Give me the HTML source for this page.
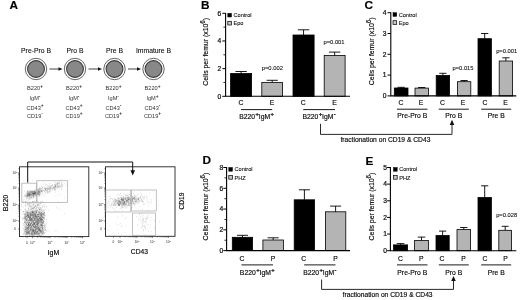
<!DOCTYPE html><html><head><meta charset="utf-8"><style>html,body{margin:0;padding:0;background:#fff}svg{display:block;filter:blur(0.3px)}text{font-family:"Liberation Sans",sans-serif;fill:#0a0a0a;stroke:#0a0a0a;stroke-width:0.16px}</style></head><body>
<svg width="520" height="300" viewBox="0 0 520 300">
<rect width="520" height="300" fill="#fff"/>
<text x="9.5" y="8.7" font-size="11.8" text-anchor="start" font-weight="bold" style="fill:#000">A</text>
<text x="201" y="9.0" font-size="11.8" text-anchor="start" font-weight="bold" style="fill:#000">B</text>
<text x="364.4" y="8.8" font-size="11.8" text-anchor="start" font-weight="bold" style="fill:#000">C</text>
<text x="202.4" y="163.6" font-size="11.8" text-anchor="start" font-weight="bold" style="fill:#000">D</text>
<text x="365.5" y="165.1" font-size="11.8" text-anchor="start" font-weight="bold" style="fill:#000">E</text>
<text x="36" y="53.4" font-size="6.8" text-anchor="middle" font-weight="normal" style="stroke-width:0.08px">Pre-Pro B</text>
<circle cx="36" cy="69" r="10.7" fill="#fff" stroke="#555" stroke-width="0.9"/>
<circle cx="36" cy="69" r="8.4" fill="#888" stroke="#3c3c3c" stroke-width="1.1"/>
<text x="35" y="90.4" font-size="5.6" text-anchor="middle" font-weight="normal" style="stroke:none;fill:#333">B220<tspan font-size="4.8" dy="-2.6" font-weight="bold">+</tspan></text>
<text x="35" y="100.2" font-size="5.6" text-anchor="middle" font-weight="normal" style="stroke:none;fill:#333">IgM<tspan font-size="4.8" dy="-2.6" font-weight="bold">-</tspan></text>
<text x="35" y="109.6" font-size="5.6" text-anchor="middle" font-weight="normal" style="stroke:none;fill:#333">CD43<tspan font-size="4.8" dy="-2.6" font-weight="bold">+</tspan></text>
<text x="35" y="117.9" font-size="5.6" text-anchor="middle" font-weight="normal" style="stroke:none;fill:#333">CD19<tspan font-size="4.8" dy="-2.6" font-weight="bold">-</tspan></text>
<line x1="49.5" y1="69" x2="60.5" y2="69" stroke="#111" stroke-width="0.8"/>
<path d="M62.5 69 L58.5 67.2 L58.5 70.8Z" fill="#111"/>
<text x="75" y="53.4" font-size="6.8" text-anchor="middle" font-weight="normal" style="stroke-width:0.08px">Pro B</text>
<circle cx="75" cy="69" r="10.7" fill="#fff" stroke="#555" stroke-width="0.9"/>
<circle cx="75" cy="69" r="8.4" fill="#888" stroke="#3c3c3c" stroke-width="1.1"/>
<text x="74" y="90.4" font-size="5.6" text-anchor="middle" font-weight="normal" style="stroke:none;fill:#333">B220<tspan font-size="4.8" dy="-2.6" font-weight="bold">+</tspan></text>
<text x="74" y="100.2" font-size="5.6" text-anchor="middle" font-weight="normal" style="stroke:none;fill:#333">IgM<tspan font-size="4.8" dy="-2.6" font-weight="bold">-</tspan></text>
<text x="74" y="109.6" font-size="5.6" text-anchor="middle" font-weight="normal" style="stroke:none;fill:#333">CD43<tspan font-size="4.8" dy="-2.6" font-weight="bold">+</tspan></text>
<text x="74" y="117.9" font-size="5.6" text-anchor="middle" font-weight="normal" style="stroke:none;fill:#333">CD19<tspan font-size="4.8" dy="-2.6" font-weight="bold">+</tspan></text>
<line x1="88.5" y1="69" x2="100.0" y2="69" stroke="#111" stroke-width="0.8"/>
<path d="M102.0 69 L98.0 67.2 L98.0 70.8Z" fill="#111"/>
<text x="114.5" y="53.4" font-size="6.8" text-anchor="middle" font-weight="normal" style="stroke-width:0.08px">Pre B</text>
<circle cx="114.5" cy="69" r="10.7" fill="#fff" stroke="#555" stroke-width="0.9"/>
<circle cx="114.5" cy="69" r="8.4" fill="#888" stroke="#3c3c3c" stroke-width="1.1"/>
<text x="113.5" y="90.4" font-size="5.6" text-anchor="middle" font-weight="normal" style="stroke:none;fill:#333">B220<tspan font-size="4.8" dy="-2.6" font-weight="bold">+</tspan></text>
<text x="113.5" y="100.2" font-size="5.6" text-anchor="middle" font-weight="normal" style="stroke:none;fill:#333">IgM<tspan font-size="4.8" dy="-2.6" font-weight="bold">-</tspan></text>
<text x="113.5" y="109.6" font-size="5.6" text-anchor="middle" font-weight="normal" style="stroke:none;fill:#333">CD43<tspan font-size="4.8" dy="-2.6" font-weight="bold">-</tspan></text>
<text x="113.5" y="117.9" font-size="5.6" text-anchor="middle" font-weight="normal" style="stroke:none;fill:#333">CD19<tspan font-size="4.8" dy="-2.6" font-weight="bold">+</tspan></text>
<line x1="128.0" y1="69" x2="139.0" y2="69" stroke="#111" stroke-width="0.8"/>
<path d="M141.0 69 L137.0 67.2 L137.0 70.8Z" fill="#111"/>
<text x="153.5" y="53.4" font-size="6.8" text-anchor="middle" font-weight="normal" style="stroke-width:0.08px">Immature B</text>
<circle cx="153.5" cy="69" r="10.7" fill="#fff" stroke="#555" stroke-width="0.9"/>
<circle cx="153.5" cy="69" r="8.4" fill="#888" stroke="#3c3c3c" stroke-width="1.1"/>
<text x="152.5" y="90.4" font-size="5.6" text-anchor="middle" font-weight="normal" style="stroke:none;fill:#333">B220<tspan font-size="4.8" dy="-2.6" font-weight="bold">+</tspan></text>
<text x="152.5" y="100.2" font-size="5.6" text-anchor="middle" font-weight="normal" style="stroke:none;fill:#333">IgM<tspan font-size="4.8" dy="-2.6" font-weight="bold">+</tspan></text>
<text x="152.5" y="109.6" font-size="5.6" text-anchor="middle" font-weight="normal" style="stroke:none;fill:#333">CD43<tspan font-size="4.8" dy="-2.6" font-weight="bold">-</tspan></text>
<text x="152.5" y="117.9" font-size="5.6" text-anchor="middle" font-weight="normal" style="stroke:none;fill:#333">CD19<tspan font-size="4.8" dy="-2.6" font-weight="bold">+</tspan></text>
<rect x="19.5" y="166.8" width="69.3" height="69.79999999999998" fill="#fff" stroke="#222" stroke-width="0.9"/>
<path d="M32.3 215.6h0.55M34.5 224.1h0.55M25.1 214.3h0.55M33.2 216.4h0.55M38.6 220.4h0.55M46.1 219.6h0.55M28.7 231.7h0.55M26.4 219.4h0.55M35.7 217.0h0.55M36.3 226.1h0.55M32.5 230.8h0.55M27.8 231.2h0.55M37.4 219.1h0.55M32.8 222.3h0.55M24.4 222.8h0.55M40.2 227.9h0.55M32.8 234.6h0.55M33.5 227.6h0.55M39.9 218.4h0.55M32.0 222.3h0.55M28.5 230.0h0.55M27.4 233.6h0.55M24.6 233.0h0.55M41.0 220.6h0.55M34.6 212.8h0.55M28.4 224.3h0.55M35.9 221.8h0.55M28.2 226.3h0.55M32.8 211.6h0.55M42.3 227.1h0.55M31.7 227.0h0.55M27.1 216.2h0.55M31.3 215.5h0.55M26.6 232.4h0.55M37.1 221.0h0.55M32.9 214.4h0.55M31.1 218.7h0.55M27.3 214.8h0.55M37.0 234.8h0.55M40.6 219.3h0.55M28.4 228.0h0.55M41.8 226.2h0.55M27.7 212.5h0.55M25.3 229.1h0.55M39.1 235.9h0.55M41.9 218.1h0.55M29.3 234.9h0.55M38.2 230.7h0.55M24.7 227.0h0.55M37.9 230.3h0.55M32.5 217.0h0.55M34.9 215.1h0.55M29.4 233.4h0.55M29.8 223.1h0.55M30.7 212.1h0.55M41.8 231.9h0.55M35.1 214.7h0.55M29.3 226.6h0.55M29.1 233.3h0.55M29.5 233.3h0.55M34.4 223.3h0.55M36.4 216.4h0.55M25.4 222.0h0.55M37.1 223.4h0.55M35.4 224.1h0.55M29.1 226.4h0.55M35.6 218.7h0.55M34.4 227.9h0.55M31.6 233.3h0.55M40.7 215.3h0.55M38.2 214.1h0.55M26.7 217.8h0.55M25.0 230.2h0.55M27.4 213.0h0.55M42.4 233.7h0.55M27.5 231.5h0.55M26.2 220.6h0.55M27.6 214.8h0.55M35.0 219.7h0.55M36.0 234.6h0.55M40.3 218.0h0.55M26.0 213.7h0.55M35.3 216.4h0.55M29.6 227.1h0.55M28.9 222.6h0.55M28.4 229.6h0.55M26.9 231.4h0.55M32.3 235.0h0.55M31.3 218.9h0.55M27.3 217.1h0.55M29.9 221.2h0.55M34.9 213.7h0.55M32.2 224.9h0.55M24.8 215.0h0.55M38.4 232.0h0.55M29.8 234.5h0.55M32.6 224.4h0.55M32.2 215.4h0.55M26.2 214.5h0.55M28.3 224.7h0.55M30.3 223.9h0.55M26.7 234.5h0.55M41.8 233.9h0.55M30.7 220.8h0.55M32.7 223.6h0.55M25.0 221.9h0.55M27.1 217.5h0.55M33.2 226.6h0.55M39.4 218.4h0.55M44.7 228.9h0.55M27.5 223.5h0.55M38.9 223.2h0.55M35.8 228.5h0.55M37.7 226.4h0.55M30.1 220.5h0.55M28.0 224.7h0.55M35.8 210.4h0.55M39.7 222.4h0.55M39.6 218.9h0.55M26.1 219.3h0.55M40.5 220.5h0.55M32.8 223.7h0.55M37.7 218.3h0.55M38.1 214.2h0.55M25.8 230.3h0.55M37.0 224.6h0.55M36.1 218.9h0.55M43.4 222.4h0.55M41.9 217.8h0.55M29.9 225.0h0.55M23.7 214.5h0.55M36.8 228.0h0.55M30.8 211.5h0.55M23.3 219.0h0.55M26.8 232.5h0.55M25.0 211.7h0.55M41.3 215.3h0.55M27.3 229.2h0.55M30.5 213.7h0.55M27.5 232.4h0.55M29.4 218.3h0.55M35.1 229.8h0.55M39.9 222.7h0.55M40.8 223.2h0.55M38.1 212.1h0.55M43.4 221.2h0.55M30.2 213.6h0.55M36.5 223.0h0.55M28.7 233.8h0.55M34.0 214.9h0.55M32.3 218.6h0.55M37.6 219.8h0.55M31.1 219.5h0.55M25.4 219.0h0.55M32.1 214.6h0.55M30.0 223.9h0.55M44.5 209.9h0.55M24.7 219.6h0.55M37.5 233.3h0.55M42.9 214.3h0.55M28.1 229.3h0.55M42.0 227.3h0.55M33.0 229.8h0.55M31.3 217.9h0.55M27.3 230.3h0.55M28.8 226.2h0.55M32.5 214.4h0.55M26.7 227.8h0.55M40.2 217.9h0.55M42.4 211.2h0.55M33.5 216.4h0.55M38.4 212.3h0.55M29.1 217.7h0.55M39.6 214.8h0.55M41.8 220.1h0.55M29.2 232.6h0.55M34.6 222.6h0.55M38.2 220.8h0.55M29.8 213.0h0.55M23.4 234.4h0.55M42.3 219.5h0.55M30.9 211.7h0.55M36.2 220.7h0.55M29.4 220.1h0.55M45.6 219.7h0.55M32.9 219.3h0.55M24.4 233.4h0.55M26.3 215.3h0.55M33.6 210.4h0.55M29.0 219.3h0.55M40.0 217.4h0.55M41.8 227.6h0.55M30.8 229.5h0.55M39.4 209.7h0.55M25.4 234.6h0.55M32.1 225.0h0.55M43.3 231.6h0.55M40.5 217.4h0.55M29.1 215.9h0.55M28.7 212.3h0.55M24.3 234.1h0.55M42.6 213.8h0.55M24.3 222.3h0.55M27.4 228.6h0.55M40.2 212.8h0.55M40.0 222.6h0.55M39.0 218.8h0.55M29.4 218.1h0.55M34.2 217.2h0.55M37.2 210.3h0.55M35.1 230.2h0.55M25.5 217.1h0.55M39.8 218.7h0.55M39.8 230.3h0.55M44.2 227.6h0.55M28.4 217.3h0.55M27.8 215.3h0.55M24.1 218.4h0.55M31.6 227.3h0.55M27.5 225.6h0.55M37.6 228.5h0.55M32.3 235.3h0.55M29.4 221.0h0.55M42.5 216.5h0.55M38.5 232.9h0.55M33.5 230.8h0.55M33.7 224.9h0.55M37.4 225.9h0.55M31.0 218.5h0.55M35.3 222.9h0.55M40.9 214.7h0.55M44.3 212.9h0.55M39.5 228.5h0.55M41.8 219.5h0.55M34.2 213.7h0.55M27.5 222.0h0.55M27.3 235.2h0.55M23.3 211.8h0.55M42.1 226.1h0.55M36.0 227.0h0.55M31.9 220.6h0.55M24.1 216.2h0.55M39.5 214.4h0.55M34.4 222.4h0.55M24.9 213.6h0.55M39.0 231.2h0.55M36.2 221.3h0.55M39.0 233.6h0.55M37.5 214.8h0.55M40.1 219.8h0.55M40.8 221.2h0.55M41.3 234.6h0.55M28.7 221.2h0.55M26.1 234.4h0.55M38.3 229.5h0.55M24.9 219.8h0.55M39.2 231.6h0.55M29.2 221.0h0.55M39.3 230.1h0.55M31.8 214.3h0.55M41.6 218.7h0.55M38.9 227.1h0.55M31.2 215.4h0.55M34.6 233.4h0.55M27.8 214.8h0.55M24.6 220.8h0.55M27.3 215.6h0.55M35.7 233.7h0.55M29.9 227.3h0.55M41.4 216.5h0.55M24.0 218.4h0.55M33.4 230.2h0.55M30.0 224.0h0.55M32.6 230.5h0.55M21.6 214.1h0.55M27.2 225.6h0.55M40.7 220.1h0.55M28.0 226.7h0.55M26.6 220.5h0.55M37.6 214.8h0.55M30.7 229.6h0.55M39.3 216.0h0.55M32.6 225.1h0.55M27.3 213.8h0.55M42.5 217.5h0.55M41.3 218.6h0.55M40.7 233.9h0.55M35.8 232.3h0.55M35.0 229.6h0.55M32.8 217.0h0.55M28.5 232.5h0.55M28.4 233.5h0.55M31.6 213.3h0.55M36.2 227.1h0.55M24.9 230.0h0.55M40.6 231.6h0.55M42.6 216.5h0.55M30.1 231.3h0.55M37.8 216.6h0.55M29.0 218.3h0.55M30.6 218.1h0.55M29.9 217.9h0.55M39.7 226.1h0.55M24.1 230.7h0.55M30.9 215.1h0.55M43.4 217.5h0.55M23.2 230.4h0.55M26.9 231.2h0.55M31.0 216.5h0.55M37.2 226.6h0.55M27.1 227.7h0.55M35.6 222.4h0.55M44.3 214.3h0.55M28.5 227.0h0.55M32.9 221.8h0.55M34.9 224.2h0.55M31.0 232.2h0.55M37.2 221.1h0.55M38.6 222.2h0.55M41.5 220.0h0.55M38.5 214.8h0.55M28.7 217.4h0.55M32.7 232.8h0.55M27.6 220.7h0.55M43.9 219.5h0.55M28.1 216.2h0.55M33.8 230.5h0.55M35.6 222.6h0.55M26.3 228.1h0.55M39.9 230.1h0.55M33.1 234.8h0.55M38.4 224.7h0.55M35.5 226.8h0.55M24.4 229.8h0.55M36.6 224.1h0.55M34.5 234.7h0.55M26.8 218.6h0.55M34.5 224.4h0.55M28.7 220.2h0.55M25.1 227.6h0.55M32.5 221.7h0.55M33.6 227.4h0.55M32.3 233.8h0.55M32.8 221.6h0.55M23.8 228.9h0.55M31.4 230.2h0.55M41.3 230.2h0.55M32.5 230.7h0.55M38.8 223.6h0.55M30.6 226.4h0.55M40.9 217.1h0.55M37.3 222.3h0.55M40.6 219.4h0.55M32.9 228.7h0.55M30.2 224.4h0.55M31.4 218.6h0.55M42.5 230.6h0.55M41.9 230.3h0.55M37.0 233.9h0.55M37.1 216.0h0.55M29.6 214.1h0.55M42.0 231.6h0.55M36.7 230.2h0.55M40.1 227.0h0.55M34.7 230.6h0.55M35.2 216.4h0.55M35.8 216.0h0.55M32.1 231.9h0.55M26.1 223.4h0.55M38.1 220.3h0.55M44.8 227.7h0.55M23.7 231.9h0.55M33.0 222.9h0.55M44.1 226.9h0.55M32.3 221.7h0.55M34.9 220.9h0.55M30.0 217.7h0.55M38.8 219.3h0.55M36.7 229.8h0.55M30.6 226.7h0.55M36.8 228.2h0.55M40.9 218.8h0.55M26.4 229.4h0.55M38.0 222.7h0.55M34.7 223.9h0.55M38.2 224.8h0.55M39.9 213.5h0.55M41.3 219.3h0.55M40.7 215.9h0.55M29.4 222.6h0.55M37.4 224.8h0.55M27.9 227.2h0.55M41.7 221.0h0.55M40.1 221.2h0.55M34.5 218.3h0.55M28.0 227.7h0.55M27.9 231.9h0.55M29.9 217.9h0.55M38.8 230.3h0.55M39.8 211.9h0.55M36.2 231.7h0.55M32.2 211.7h0.55M23.5 211.4h0.55M30.6 230.8h0.55M35.4 225.8h0.55M32.7 229.5h0.55M30.3 219.8h0.55M33.0 226.3h0.55M35.3 234.9h0.55M38.7 224.7h0.55M44.1 217.2h0.55M34.1 226.7h0.55M38.4 216.8h0.55M24.9 227.2h0.55M40.5 230.9h0.55M41.4 216.8h0.55M41.6 230.7h0.55M33.2 231.4h0.55M28.7 213.7h0.55M35.4 215.1h0.55M29.7 219.7h0.55M27.6 214.8h0.55M38.4 222.0h0.55M32.9 215.9h0.55M27.9 223.5h0.55M31.5 212.9h0.55M42.9 227.1h0.55M40.8 221.7h0.55M35.0 234.8h0.55M39.0 218.2h0.55M36.0 231.4h0.55M41.3 212.6h0.55M29.0 213.8h0.55M36.5 232.5h0.55M43.8 222.0h0.55M28.4 224.7h0.55M39.1 220.4h0.55M30.3 220.4h0.55M44.2 211.4h0.55M39.0 232.4h0.55M27.7 235.7h0.55M36.9 231.5h0.55M26.4 216.0h0.55M34.5 216.3h0.55M40.1 216.7h0.55M26.7 233.0h0.55M41.7 221.7h0.55M29.6 225.1h0.55M31.8 225.5h0.55M37.3 214.2h0.55M37.4 231.7h0.55M29.1 218.7h0.55M40.0 224.1h0.55M31.5 234.1h0.55M27.9 215.4h0.55M33.6 217.8h0.55M37.4 233.0h0.55M26.0 216.6h0.55M37.2 216.6h0.55M39.5 212.8h0.55M39.4 221.8h0.55M42.3 217.2h0.55M28.7 214.0h0.55M28.3 224.5h0.55M30.7 230.4h0.55M39.1 213.0h0.55M36.4 214.7h0.55M38.4 234.5h0.55M37.6 223.3h0.55M41.0 232.1h0.55M32.6 227.0h0.55M23.4 223.6h0.55M26.6 229.0h0.55M30.6 227.8h0.55M28.9 220.5h0.55M32.5 212.1h0.55M43.1 215.4h0.55M29.8 213.9h0.55M38.0 226.1h0.55M33.2 214.0h0.55M41.0 214.4h0.55M32.8 214.8h0.55M33.9 233.4h0.55M25.3 214.6h0.55M41.7 221.1h0.55M38.9 233.4h0.55M38.7 220.7h0.55M35.9 232.7h0.55M40.4 223.5h0.55M43.8 221.2h0.55M35.4 215.1h0.55M32.7 215.2h0.55M43.6 222.9h0.55M42.5 210.6h0.55M36.6 220.7h0.55M37.0 216.7h0.55M31.0 220.2h0.55M30.2 225.0h0.55M41.4 222.6h0.55M35.4 215.7h0.55M29.3 218.3h0.55M23.7 225.2h0.55M34.9 227.5h0.55M31.4 222.1h0.55M30.8 224.9h0.55M31.9 220.0h0.55M41.1 225.3h0.55M31.6 229.7h0.55M30.9 223.4h0.55M24.8 230.0h0.55M27.7 233.0h0.55M27.1 228.8h0.55M38.1 221.5h0.55M38.6 220.2h0.55M38.6 211.5h0.55M43.8 225.5h0.55M36.2 221.1h0.55M41.0 219.2h0.55M30.9 219.4h0.55M30.7 218.9h0.55M40.7 220.7h0.55M28.1 226.1h0.55M38.8 221.3h0.55M42.7 213.3h0.55M33.1 213.0h0.55M31.9 229.9h0.55M36.9 223.9h0.55M36.5 226.6h0.55M33.8 223.3h0.55M25.7 226.1h0.55M38.6 220.4h0.55M29.4 216.1h0.55M35.2 218.4h0.55M44.0 212.8h0.55M40.5 232.0h0.55M40.6 219.1h0.55M33.4 216.2h0.55M35.5 234.0h0.55M38.4 230.5h0.55M30.6 218.9h0.55M38.5 215.3h0.55M33.0 226.5h0.55M36.9 221.4h0.55M28.7 216.7h0.55M27.8 232.6h0.55M36.5 211.8h0.55M38.1 222.4h0.55M28.1 233.5h0.55M34.8 222.3h0.55M27.6 232.7h0.55M32.3 212.2h0.55M43.1 231.6h0.55M39.4 236.1h0.55M35.3 220.6h0.55M38.5 233.5h0.55M34.3 214.8h0.55M33.3 222.6h0.55M36.9 222.2h0.55M33.2 231.3h0.55M31.5 219.6h0.55M31.7 220.4h0.55M27.7 217.5h0.55M41.7 232.5h0.55M40.7 229.9h0.55M33.0 233.6h0.55M34.6 216.8h0.55M37.8 228.9h0.55M31.9 219.1h0.55M42.5 225.8h0.55M30.2 225.6h0.55M34.9 215.5h0.55M29.1 226.1h0.55M25.6 222.9h0.55M31.8 217.8h0.55M27.1 220.0h0.55M42.3 228.5h0.55M27.4 228.0h0.55M36.3 228.5h0.55M38.0 223.2h0.55M37.0 233.7h0.55M38.5 212.5h0.55M28.4 222.0h0.55M24.9 218.2h0.55M38.2 216.8h0.55M32.5 210.7h0.55M40.7 211.7h0.55M40.4 217.3h0.55M27.3 232.0h0.55M41.0 222.3h0.55M39.4 212.9h0.55M39.2 229.6h0.55M39.7 220.4h0.55M25.5 222.2h0.55M44.1 215.0h0.55M38.4 223.4h0.55M41.6 216.2h0.55M25.1 217.9h0.55M32.4 229.3h0.55M29.5 224.2h0.55M41.5 233.4h0.55M26.3 230.2h0.55M35.2 226.4h0.55M33.4 231.8h0.55M26.7 218.2h0.55M25.9 229.2h0.55M34.4 223.7h0.55M32.0 212.8h0.55M43.4 227.8h0.55M42.4 222.9h0.55M33.8 214.1h0.55M40.6 231.7h0.55M37.1 216.4h0.55M26.0 215.8h0.55M26.4 231.0h0.55M28.8 226.1h0.55M32.2 222.1h0.55M30.4 230.6h0.55M31.4 227.0h0.55M39.2 230.4h0.55M33.2 218.9h0.55M37.9 216.9h0.55M33.9 212.8h0.55M34.1 214.5h0.55M42.3 219.6h0.55M29.2 220.1h0.55M29.1 231.9h0.55M42.4 223.3h0.55M34.8 214.8h0.55M26.9 233.9h0.55M45.0 225.6h0.55M42.2 226.9h0.55M26.9 221.3h0.55M36.5 233.8h0.55M26.4 224.5h0.55M25.8 224.1h0.55M30.7 220.7h0.55M28.5 227.7h0.55M27.9 213.3h0.55M34.8 226.6h0.55M28.5 223.5h0.55M37.3 214.5h0.55M34.5 226.9h0.55M42.7 231.8h0.55M27.7 214.5h0.55M40.2 214.1h0.55M40.5 221.0h0.55M24.4 218.3h0.55M35.1 227.8h0.55M37.8 230.7h0.55M28.1 228.1h0.55M38.0 219.9h0.55M41.1 212.2h0.55M37.8 231.7h0.55M29.2 216.8h0.55M25.7 226.4h0.55M27.9 230.5h0.55M27.2 227.4h0.55M34.1 227.0h0.55M39.2 208.7h0.55M32.4 233.6h0.55M40.8 231.0h0.55M36.2 216.8h0.55M38.1 228.1h0.55M25.9 233.5h0.55M36.8 220.6h0.55M32.3 219.4h0.55M23.8 211.8h0.55M34.0 215.3h0.55M37.2 224.8h0.55M28.1 233.2h0.55M45.4 230.2h0.55M41.5 224.4h0.55M31.2 234.9h0.55M41.8 228.3h0.55M36.4 219.9h0.55M34.7 220.1h0.55M32.8 220.3h0.55M29.6 216.6h0.55M26.3 221.0h0.55M35.2 214.4h0.55M29.7 227.1h0.55M40.4 228.5h0.55M31.9 230.3h0.55M22.8 218.7h0.55M30.7 218.3h0.55M38.4 218.2h0.55M37.7 214.8h0.55M40.7 213.3h0.55M41.0 214.1h0.55M25.3 226.0h0.55M42.4 230.6h0.55M35.0 221.1h0.55M25.6 226.7h0.55M29.0 218.0h0.55M37.2 225.3h0.55M45.3 229.4h0.55M31.9 215.8h0.55M41.7 223.3h0.55M33.2 226.0h0.55M34.8 220.2h0.55M38.4 216.4h0.55M41.0 218.2h0.55M35.5 211.9h0.55M32.3 218.1h0.55M43.7 216.7h0.55M25.9 224.0h0.55M36.8 223.9h0.55M28.9 235.5h0.55M30.7 218.1h0.55M40.9 219.9h0.55M38.4 233.1h0.55M26.9 226.3h0.55M32.8 224.6h0.55M35.9 224.5h0.55M29.1 223.2h0.55M30.1 229.4h0.55M31.6 225.1h0.55M30.0 215.7h0.55M39.5 218.5h0.55M34.7 227.1h0.55M34.0 232.9h0.55M30.0 228.9h0.55M31.3 234.5h0.55M26.0 228.4h0.55M28.0 216.2h0.55M33.5 231.0h0.55M44.3 230.5h0.55M39.6 217.8h0.55M33.2 235.0h0.55M31.4 222.6h0.55M26.6 228.2h0.55M27.6 212.7h0.55M28.0 220.1h0.55M32.2 228.1h0.55M30.6 214.7h0.55M24.2 224.7h0.55M34.1 227.2h0.55M32.7 233.9h0.55M40.8 217.7h0.55M34.3 220.6h0.55M36.2 216.6h0.55M37.3 225.5h0.55M32.0 215.7h0.55M41.3 209.7h0.55M36.8 226.7h0.55M30.9 229.2h0.55M38.7 234.7h0.55M27.5 218.8h0.55M36.6 227.3h0.55M36.5 226.5h0.55M28.2 232.1h0.55M33.4 221.0h0.55M31.4 227.0h0.55M31.8 217.0h0.55M29.0 225.1h0.55M42.8 211.0h0.55M33.5 212.3h0.55M27.8 220.9h0.55M38.1 213.8h0.55M34.8 222.3h0.55M34.7 212.9h0.55M36.3 218.9h0.55M31.0 213.7h0.55M28.2 215.9h0.55M38.1 219.0h0.55M42.3 233.0h0.55M26.2 227.5h0.55M33.5 220.9h0.55M37.7 228.5h0.55M39.1 226.6h0.55M43.6 232.4h0.55M31.2 212.4h0.55M37.6 224.8h0.55M41.7 225.3h0.55M30.6 222.3h0.55M35.1 222.2h0.55M35.5 226.9h0.55M34.8 225.3h0.55M39.3 216.3h0.55M26.7 213.4h0.55M38.4 227.5h0.55M37.6 228.0h0.55M27.8 227.9h0.55M42.0 225.1h0.55M26.4 217.9h0.55M30.7 227.9h0.55M34.0 219.3h0.55M42.0 214.9h0.55M30.6 221.2h0.55M31.5 220.6h0.55M40.9 228.2h0.55M25.2 223.2h0.55M34.9 231.5h0.55M29.7 222.8h0.55M35.0 231.5h0.55M24.0 214.1h0.55M42.9 217.1h0.55M39.4 222.4h0.55M36.9 215.7h0.55M42.7 219.6h0.55M29.2 235.4h0.55M32.0 231.8h0.55M38.0 228.5h0.55M26.5 216.2h0.55M34.9 217.4h0.55M40.5 218.2h0.55M41.4 212.6h0.55M31.3 223.7h0.55M24.2 222.5h0.55M39.8 216.8h0.55M45.9 224.0h0.55M28.8 225.6h0.55M43.7 232.9h0.55M35.4 215.0h0.55M32.4 215.3h0.55M44.2 234.7h0.55M33.6 212.4h0.55M30.0 229.4h0.55M28.6 212.3h0.55M37.0 231.3h0.55M35.6 223.9h0.55M26.3 224.6h0.55M29.9 217.4h0.55M29.5 230.9h0.55M40.3 214.3h0.55M42.7 225.6h0.55M26.2 224.5h0.55M33.7 222.1h0.55M29.6 232.9h0.55M34.5 233.5h0.55M34.6 225.8h0.55M29.2 217.2h0.55M24.1 219.9h0.55M43.3 218.4h0.55M36.5 211.0h0.55M25.8 210.3h0.55M35.4 217.1h0.55M36.5 213.1h0.55M41.0 214.9h0.55M29.3 213.1h0.55M32.0 217.9h0.55M36.6 229.4h0.55M31.1 232.9h0.55M38.2 225.6h0.55M40.8 227.8h0.55M33.6 231.0h0.55M40.8 235.8h0.55M41.6 227.4h0.55M33.2 231.2h0.55M39.9 228.1h0.55M45.6 232.9h0.55M30.3 215.6h0.55M33.6 234.7h0.55M37.3 228.5h0.55M38.1 227.5h0.55M34.5 232.4h0.55M28.8 228.5h0.55M24.8 214.6h0.55M38.1 223.6h0.55M31.5 232.9h0.55M36.3 218.9h0.55M35.8 231.4h0.55M27.0 230.5h0.55M27.9 224.3h0.55M30.8 231.2h0.55M28.3 223.7h0.55M44.4 218.5h0.55M35.7 233.7h0.55M33.9 219.0h0.55M23.9 222.8h0.55M35.0 225.9h0.55M25.2 232.8h0.55M30.5 218.7h0.55M33.1 220.3h0.55M32.3 231.1h0.55M36.0 228.7h0.55M41.1 210.2h0.55M33.6 235.5h0.55M25.9 212.0h0.55M32.2 216.2h0.55M38.6 223.6h0.55M41.4 225.2h0.55M34.5 227.3h0.55M31.2 232.8h0.55M39.2 224.6h0.55M42.6 218.2h0.55M32.0 221.3h0.55M43.9 218.9h0.55M42.9 223.4h0.55M26.9 222.5h0.55M42.7 234.0h0.55M34.5 228.0h0.55M32.4 225.0h0.55M34.1 216.0h0.55M33.4 217.7h0.55M36.5 215.7h0.55M38.9 233.0h0.55M29.9 225.2h0.55M38.2 229.1h0.55M35.7 218.5h0.55M42.3 219.6h0.55M39.3 232.9h0.55M32.5 232.4h0.55M27.2 222.0h0.55M35.7 223.4h0.55M31.3 230.9h0.55M40.1 226.7h0.55M35.5 232.7h0.55M39.7 230.1h0.55M26.7 223.7h0.55M32.1 231.9h0.55M30.3 215.3h0.55M40.4 219.8h0.55M40.7 220.8h0.55M24.5 217.7h0.55M24.2 231.3h0.55M26.1 216.5h0.55M35.9 226.3h0.55M29.3 230.3h0.55M39.6 229.8h0.55M23.8 213.4h0.55M36.3 219.1h0.55M33.5 231.3h0.55M44.8 215.7h0.55M44.9 215.9h0.55M32.4 220.2h0.55M31.9 220.0h0.55M28.4 220.2h0.55M28.4 217.1h0.55M34.1 225.1h0.55M44.8 227.3h0.55M26.2 232.1h0.55M37.5 219.3h0.55M24.7 215.4h0.55M26.5 234.0h0.55M39.2 214.7h0.55M28.2 233.0h0.55M42.4 229.2h0.55M29.0 225.0h0.55M28.9 233.2h0.55M42.4 220.5h0.55M36.4 233.3h0.55M28.6 225.6h0.55M35.0 230.3h0.55M36.8 225.2h0.55M25.3 234.4h0.55M33.3 216.8h0.55M41.2 226.1h0.55M27.9 227.1h0.55M36.3 211.9h0.55M40.1 221.8h0.55M37.2 225.8h0.55M36.9 233.1h0.55M37.2 235.2h0.55M27.0 232.7h0.55M36.7 213.7h0.55M43.2 212.7h0.55M30.5 227.0h0.55M39.9 215.3h0.55M30.5 214.7h0.55M42.7 229.6h0.55M27.3 230.0h0.55M41.6 231.5h0.55M36.1 224.6h0.55M36.2 212.6h0.55M34.7 213.7h0.55M41.8 231.1h0.55M35.1 218.4h0.55M36.3 227.4h0.55M33.7 233.0h0.55M41.9 219.9h0.55M40.4 236.3h0.55M39.9 214.6h0.55M36.2 221.4h0.55M30.8 231.6h0.55M39.6 227.9h0.55M40.6 232.0h0.55M33.7 233.0h0.55M32.8 217.7h0.55M31.1 222.8h0.55M41.0 226.5h0.55M43.2 218.2h0.55M29.3 217.5h0.55M42.7 229.0h0.55M41.5 222.4h0.55M27.6 225.2h0.55M27.8 214.7h0.55M33.7 232.0h0.55M34.6 233.0h0.55M27.0 234.1h0.55M26.0 228.8h0.55M38.8 216.7h0.55M25.1 216.9h0.55M41.5 225.4h0.55M35.6 212.2h0.55M27.7 215.4h0.55M22.9 228.0h0.55M30.2 213.3h0.55M28.6 223.6h0.55M41.5 222.0h0.55M43.3 217.8h0.55M41.6 216.1h0.55M26.5 218.9h0.55M35.2 214.9h0.55M31.4 223.4h0.55M36.0 213.0h0.55M25.8 233.5h0.55M31.6 229.3h0.55M28.4 216.0h0.55M30.0 219.5h0.55M39.3 218.1h0.55M30.6 224.6h0.55M43.3 232.0h0.55M31.0 215.0h0.55M33.3 214.0h0.55M34.4 223.2h0.55M28.6 223.4h0.55M41.7 216.9h0.55M35.8 232.9h0.55M43.8 226.5h0.55M31.0 219.7h0.55M26.2 226.2h0.55M40.1 220.1h0.55M28.0 213.5h0.55M42.2 212.4h0.55M36.7 222.8h0.55M37.6 223.2h0.55M35.7 229.8h0.55M42.3 217.3h0.55M42.2 226.8h0.55M42.7 213.4h0.55M33.8 230.0h0.55M37.3 227.0h0.55M26.3 222.6h0.55M36.2 234.2h0.55M37.1 219.6h0.55M42.4 234.4h0.55M29.7 228.2h0.55M24.8 231.7h0.55M24.0 221.7h0.55M35.2 216.7h0.55M28.1 214.9h0.55M31.8 211.7h0.55M30.4 224.3h0.55M34.4 230.3h0.55M42.3 225.2h0.55M26.6 212.0h0.55M29.3 236.1h0.55M29.7 230.0h0.55M36.3 217.5h0.55M34.7 231.2h0.55M43.0 233.2h0.55M36.6 220.1h0.55M28.1 229.0h0.55M26.2 220.6h0.55M37.5 222.7h0.55M37.0 213.9h0.55M43.0 220.8h0.55M43.2 235.7h0.55M41.9 222.9h0.55M37.4 216.3h0.55M28.9 215.6h0.55M31.9 225.7h0.55M41.1 227.5h0.55M33.9 214.0h0.55M38.3 235.4h0.55M40.4 224.6h0.55M39.1 229.4h0.55M30.5 228.8h0.55M42.2 215.1h0.55M22.8 217.7h0.55M27.3 228.0h0.55M25.2 229.6h0.55M44.0 233.6h0.55M43.8 225.2h0.55M29.3 218.9h0.55M26.8 214.6h0.55M36.1 229.0h0.55M37.5 217.9h0.55M41.7 215.3h0.55M35.9 219.0h0.55M40.0 224.8h0.55M27.8 227.4h0.55M31.2 226.3h0.55M28.3 216.5h0.55M36.8 223.0h0.55M34.8 228.3h0.55M28.5 230.1h0.55M37.3 218.5h0.55M37.2 218.1h0.55M40.5 231.8h0.55M39.2 229.9h0.55M25.5 212.7h0.55M36.7 235.2h0.55M33.8 224.4h0.55M33.0 226.1h0.55M39.8 221.3h0.55M33.9 219.5h0.55M28.4 230.1h0.55M28.4 234.7h0.55M37.8 227.7h0.55M34.5 234.0h0.55M25.2 219.4h0.55M26.3 219.3h0.55M26.0 234.6h0.55M25.3 217.8h0.55M27.8 224.6h0.55M40.9 230.5h0.55M32.4 218.3h0.55M43.9 229.9h0.55M43.0 233.0h0.55M35.7 230.2h0.55M39.3 234.8h0.55M27.5 216.4h0.55M24.9 216.4h0.55M40.4 230.0h0.55M32.0 232.4h0.55M40.8 229.5h0.55M39.4 217.2h0.55M41.2 219.3h0.55M31.0 215.8h0.55M30.6 225.7h0.55M41.5 232.0h0.55M42.5 229.2h0.55M40.0 223.1h0.55M41.9 221.2h0.55M38.4 234.0h0.55M43.7 232.0h0.55M37.2 231.6h0.55M33.7 230.4h0.55M40.2 219.0h0.55M30.8 213.4h0.55M39.8 214.2h0.55M39.3 222.9h0.55M41.2 226.2h0.55M38.2 229.5h0.55M32.2 212.9h0.55M36.8 221.4h0.55M34.4 215.2h0.55M29.1 231.1h0.55M27.7 225.4h0.55M32.7 212.5h0.55M35.9 217.7h0.55M29.0 214.2h0.55M43.0 220.7h0.55M39.1 218.5h0.55M31.0 223.6h0.55M33.8 233.2h0.55M40.9 215.1h0.55M39.3 231.1h0.55M32.7 212.0h0.55M37.1 231.9h0.55M36.3 214.5h0.55M37.2 224.3h0.55M29.5 225.5h0.55M33.8 219.9h0.55M38.3 216.7h0.55M35.5 234.7h0.55M26.5 227.9h0.55M37.9 230.0h0.55M45.7 223.4h0.55M29.2 228.8h0.55M25.4 235.5h0.55M31.3 215.4h0.55M26.1 220.2h0.55M28.1 217.1h0.55M29.8 223.0h0.55M35.0 233.4h0.55M34.4 217.4h0.55M30.4 235.3h0.55M31.4 221.4h0.55M37.1 232.5h0.55M38.7 228.9h0.55M29.1 218.6h0.55M32.4 229.2h0.55M39.4 220.1h0.55M41.3 225.5h0.55M33.2 220.6h0.55M30.9 232.7h0.55M24.7 225.0h0.55M32.9 223.3h0.55M41.0 218.3h0.55M30.0 216.2h0.55M30.7 234.0h0.55M34.7 232.3h0.55M27.8 216.1h0.55M26.4 216.4h0.55M25.8 231.2h0.55M43.8 232.5h0.55M28.2 215.7h0.55M39.8 212.9h0.55M41.2 232.3h0.55M26.5 212.8h0.55M37.6 215.2h0.55M26.5 232.8h0.55M33.4 220.8h0.55M38.5 216.4h0.55M31.4 223.6h0.55M39.3 230.6h0.55M32.5 226.8h0.55M28.2 234.1h0.55M41.1 215.7h0.55M32.0 230.3h0.55M39.4 230.3h0.55M31.7 226.9h0.55M36.4 232.4h0.55M35.8 219.6h0.55M42.5 228.2h0.55M42.8 228.1h0.55M29.1 231.1h0.55M33.5 217.5h0.55M42.2 228.6h0.55M37.4 220.7h0.55M44.6 215.8h0.55M32.6 224.3h0.55M38.3 229.5h0.55M24.2 217.0h0.55M36.8 234.7h0.55M44.1 225.1h0.55M40.1 230.1h0.55M34.1 214.2h0.55M40.3 215.1h0.55M40.7 214.3h0.55M35.9 231.6h0.55M24.9 231.7h0.55M43.3 223.2h0.55M38.1 232.0h0.55M30.3 217.0h0.55M27.0 215.8h0.55M39.4 218.2h0.55M42.5 229.5h0.55M43.3 222.0h0.55M40.1 233.3h0.55M38.8 214.9h0.55M35.4 229.6h0.55M27.1 219.5h0.55M29.3 224.7h0.55M28.6 231.0h0.55M37.7 223.3h0.55M43.6 225.3h0.55M41.4 220.6h0.55M25.8 219.3h0.55M33.1 226.3h0.55M33.9 223.8h0.55M40.2 224.6h0.55M31.7 234.1h0.55M28.2 216.9h0.55M36.6 229.4h0.55M42.1 225.4h0.55M38.7 221.8h0.55M42.1 214.1h0.55M34.4 229.7h0.55M25.5 232.1h0.55M28.0 231.7h0.55M32.7 225.0h0.55M40.7 235.8h0.55M27.0 214.1h0.55M29.7 231.5h0.55M41.7 214.1h0.55M37.0 232.2h0.55M30.3 216.2h0.55M36.2 222.7h0.55M34.1 223.9h0.55M26.8 218.0h0.55M39.2 220.5h0.55M25.1 219.9h0.55M39.6 233.5h0.55M29.7 225.8h0.55M28.9 219.9h0.55M25.6 217.7h0.55M35.6 215.1h0.55M29.1 231.4h0.55M33.2 215.2h0.55M40.1 225.6h0.55M24.6 214.3h0.55M38.3 214.0h0.55M35.2 215.1h0.55M42.8 221.2h0.55M30.7 236.1h0.55M31.0 219.5h0.55M31.8 214.0h0.55M21.6 231.9h0.55M25.0 216.4h0.55M34.5 218.8h0.55M43.0 213.6h0.55M35.6 229.8h0.55M36.2 228.4h0.55M40.9 214.2h0.55M35.5 226.5h0.55M31.5 233.2h0.55M33.8 228.7h0.55M40.4 231.4h0.55M39.4 228.5h0.55M26.5 232.5h0.55M42.0 233.3h0.55M37.4 224.6h0.55M41.6 223.5h0.55M33.1 225.1h0.55M36.1 224.8h0.55M32.3 217.4h0.55M34.4 230.9h0.55M38.2 233.2h0.55M33.5 222.2h0.55M38.9 227.1h0.55M27.5 219.5h0.55M31.7 214.2h0.55M29.8 225.3h0.55M36.3 212.2h0.55M35.7 224.9h0.55M40.2 216.7h0.55M33.4 230.8h0.55M33.2 224.1h0.55M40.6 230.1h0.55M31.9 235.1h0.55M29.1 234.3h0.55M39.2 235.2h0.55M33.9 223.2h0.55M28.6 220.2h0.55M36.0 221.3h0.55M33.6 229.6h0.55M30.2 214.3h0.55M24.4 216.8h0.55M30.9 214.6h0.55M34.6 212.2h0.55M29.7 222.0h0.55M27.6 222.9h0.55M32.4 234.2h0.55M30.2 224.6h0.55M34.8 231.3h0.55M30.3 232.9h0.55M25.2 227.2h0.55M40.5 219.2h0.55M40.8 230.1h0.55M33.8 222.6h0.55M29.6 214.1h0.55M30.1 219.4h0.55M33.5 215.4h0.55M32.9 231.9h0.55M30.0 218.7h0.55M35.2 213.4h0.55M42.1 227.7h0.55M34.2 232.7h0.55M27.8 222.3h0.55M33.7 229.3h0.55M32.3 230.8h0.55M34.2 227.5h0.55M26.3 231.7h0.55M35.7 216.6h0.55M26.7 216.0h0.55M38.4 217.6h0.55M33.6 216.9h0.55M33.3 218.5h0.55M35.4 229.3h0.55M35.9 232.8h0.55M35.5 220.8h0.55M44.0 212.4h0.55M40.0 235.1h0.55M38.1 219.2h0.55M40.0 232.4h0.55M34.3 222.1h0.55M42.0 223.1h0.55M25.2 214.2h0.55M37.2 219.4h0.55M33.2 230.3h0.55M40.7 219.5h0.55M43.1 214.8h0.55M28.5 225.2h0.55M42.5 224.6h0.55M38.5 234.3h0.55M30.1 214.7h0.55M37.0 217.7h0.55M41.4 224.9h0.55M25.6 229.5h0.55M32.0 230.3h0.55M35.6 216.6h0.55M40.1 230.4h0.55M28.4 229.2h0.55M26.4 225.3h0.55M31.0 221.5h0.55M25.4 229.9h0.55M33.4 213.5h0.55M38.5 233.2h0.55M38.2 225.9h0.55M42.9 222.2h0.55M35.1 232.8h0.55M32.8 226.1h0.55M26.6 222.4h0.55M34.5 233.1h0.55M31.3 225.8h0.55M35.5 221.8h0.55M38.7 229.0h0.55M31.3 226.9h0.55M38.9 230.5h0.55M28.6 210.4h0.55M30.7 214.6h0.55M34.0 224.0h0.55M32.5 212.1h0.55M30.6 214.6h0.55M38.9 211.6h0.55M25.7 231.8h0.55M32.0 234.4h0.55M32.9 230.3h0.55M39.4 221.5h0.55M39.5 226.2h0.55M32.5 224.3h0.55M42.3 233.0h0.55M45.3 226.7h0.55M39.8 219.1h0.55M38.0 225.7h0.55M37.0 221.9h0.55M29.8 214.1h0.55M36.8 221.8h0.55M35.4 228.1h0.55M26.6 228.5h0.55M32.5 225.0h0.55M34.1 220.3h0.55M41.6 218.4h0.55M41.9 233.2h0.55M32.3 213.2h0.55M22.7 217.7h0.55M33.3 214.2h0.55M31.2 234.3h0.55M27.9 212.2h0.55M34.4 224.8h0.55M41.5 215.9h0.55M30.5 220.3h0.55M27.1 215.5h0.55M29.7 216.8h0.55M36.5 223.8h0.55M29.8 216.1h0.55M41.9 223.6h0.55M36.5 212.9h0.55M35.7 217.1h0.55M34.9 220.1h0.55M35.4 228.0h0.55M27.2 215.5h0.55M25.2 228.4h0.55M29.0 220.1h0.55M46.9 230.7h0.55M30.6 214.7h0.55M41.7 222.5h0.55M27.1 217.2h0.55M37.0 230.1h0.55M26.4 222.3h0.55M36.8 216.0h0.55M41.5 221.7h0.55M37.7 218.9h0.55M34.5 233.7h0.55M43.7 217.8h0.55M40.7 231.1h0.55M44.0 215.3h0.55M38.2 220.7h0.55M41.5 224.8h0.55M29.3 218.6h0.55M32.0 229.0h0.55M30.0 230.4h0.55M30.4 213.9h0.55M32.9 232.0h0.55M36.0 217.3h0.55M30.4 228.4h0.55M34.6 218.6h0.55M39.6 235.9h0.55M27.5 228.1h0.55M39.3 228.8h0.55M26.6 220.9h0.55M28.0 227.9h0.55M33.7 228.6h0.55M33.8 223.8h0.55M25.6 235.6h0.55M35.0 226.7h0.55M30.6 219.9h0.55M24.9 215.7h0.55M38.3 214.6h0.55M33.8 213.8h0.55M43.3 223.0h0.55M23.7 234.1h0.55M34.3 223.2h0.55M28.8 222.8h0.55M35.5 225.9h0.55M43.9 213.7h0.55M28.3 231.8h0.55M40.9 224.8h0.55M37.3 218.1h0.55M38.3 221.4h0.55M33.5 229.2h0.55M39.2 225.3h0.55M43.8 212.8h0.55M40.6 232.1h0.55M41.2 224.5h0.55M31.2 228.8h0.55M27.6 224.1h0.55M37.3 210.7h0.55M31.1 233.4h0.55M34.3 224.6h0.55M38.3 219.3h0.55M43.8 213.7h0.55M37.4 219.6h0.55M28.6 224.0h0.55M27.6 227.9h0.55M42.6 222.8h0.55M31.7 223.9h0.55M39.6 218.1h0.55M35.0 231.0h0.55M28.8 212.4h0.55M31.6 219.7h0.55M37.3 230.0h0.55M36.2 233.2h0.55M31.7 216.2h0.55M27.0 212.0h0.55M39.5 228.9h0.55M41.8 235.9h0.55M29.8 229.3h0.55M35.3 225.7h0.55M29.6 215.0h0.55M37.5 229.2h0.55M38.9 219.2h0.55M36.4 216.3h0.55M25.1 218.4h0.55M26.4 226.7h0.55M26.6 234.5h0.55M32.2 220.0h0.55M30.1 227.6h0.55M34.6 220.1h0.55M29.9 219.5h0.55M30.4 229.8h0.55M31.3 236.1h0.55M30.4 216.6h0.55M31.3 230.8h0.55M23.4 225.1h0.55M33.9 217.8h0.55M25.6 231.2h0.55M36.5 220.4h0.55M29.8 233.5h0.55M38.0 215.8h0.55M40.0 219.0h0.55M46.4 231.3h0.55M32.4 228.3h0.55M32.8 231.0h0.55M42.3 219.4h0.55M30.1 233.5h0.55M41.5 213.3h0.55M24.2 222.0h0.55M41.9 222.4h0.55M30.2 223.7h0.55M32.9 224.7h0.55M35.3 216.5h0.55M26.8 231.2h0.55M41.7 224.9h0.55M34.5 213.4h0.55M36.8 231.7h0.55M40.0 225.3h0.55M37.2 223.7h0.55M25.4 216.2h0.55M33.4 217.2h0.55M37.7 220.7h0.55M38.0 219.7h0.55M37.0 231.5h0.55M34.4 219.1h0.55M29.4 222.0h0.55M41.6 216.4h0.55M28.9 227.3h0.55M31.6 228.7h0.55M39.8 215.5h0.55M43.2 221.3h0.55M38.8 231.0h0.55M35.2 211.0h0.55M39.6 213.8h0.55M28.4 224.3h0.55M32.9 214.4h0.55M32.8 215.1h0.55M30.4 220.6h0.55M37.6 228.4h0.55M27.2 213.3h0.55M28.4 232.2h0.55M41.8 230.6h0.55M24.6 217.8h0.55M33.2 231.0h0.55M34.1 218.6h0.55M30.1 215.8h0.55M28.3 224.4h0.55M27.9 228.2h0.55M33.8 223.5h0.55M33.4 233.1h0.55M39.2 234.5h0.55M25.3 223.2h0.55M39.3 228.8h0.55M27.4 233.4h0.55M28.4 217.9h0.55M28.3 217.6h0.55M41.5 233.1h0.55M27.9 225.5h0.55M41.4 235.4h0.55M34.7 215.9h0.55M35.8 231.2h0.55M39.3 212.1h0.55M45.0 230.3h0.55M30.2 227.8h0.55M27.2 229.8h0.55M34.2 223.3h0.55M24.8 231.8h0.55M33.7 235.7h0.55M44.9 230.0h0.55M39.8 222.4h0.55M36.5 211.5h0.55M42.0 215.6h0.55M43.3 214.3h0.55M40.5 213.2h0.55M32.8 221.6h0.55M26.8 233.9h0.55M40.5 227.5h0.55M33.2 223.8h0.55M42.1 224.1h0.55M30.0 228.7h0.55M37.0 222.6h0.55M43.4 219.8h0.55M32.0 214.0h0.55M38.8 228.4h0.55M38.6 227.4h0.55M26.8 229.1h0.55M26.4 233.0h0.55M43.9 215.2h0.55M38.3 227.6h0.55M31.2 225.5h0.55M35.6 228.4h0.55M36.8 222.9h0.55M31.6 220.4h0.55M29.9 217.2h0.55M25.0 220.7h0.55M35.2 213.2h0.55M42.4 222.2h0.55M34.1 232.5h0.55M29.4 232.8h0.55M32.8 231.1h0.55M41.5 225.0h0.55M42.8 213.6h0.55M26.1 230.0h0.55M34.0 234.0h0.55M38.1 222.9h0.55M32.0 213.7h0.55M28.1 221.2h0.55M33.5 227.6h0.55M34.8 218.2h0.55M37.5 227.4h0.55M36.6 215.2h0.55M36.0 227.4h0.55M40.4 225.4h0.55M30.3 217.1h0.55M33.9 215.9h0.55M27.8 222.5h0.55M37.6 222.2h0.55M40.7 232.2h0.55M31.6 227.4h0.55M31.9 233.2h0.55M31.1 222.4h0.55M29.5 229.0h0.55M37.6 222.0h0.55M26.2 232.0h0.55M34.6 219.8h0.55M28.6 232.5h0.55M39.7 213.1h0.55M26.5 225.2h0.55M38.8 216.7h0.55M43.2 211.6h0.55M43.0 217.8h0.55M35.0 221.5h0.55M36.4 217.1h0.55M27.1 226.0h0.55M32.1 235.0h0.55M30.7 229.0h0.55M35.8 217.5h0.55M28.3 224.9h0.55M34.8 219.4h0.55M25.9 219.0h0.55M25.4 213.3h0.55M31.9 212.5h0.55M38.1 214.0h0.55M36.8 216.6h0.55M33.5 225.8h0.55M32.9 215.7h0.55M34.0 231.9h0.55M36.4 224.5h0.55M27.2 232.9h0.55M29.3 215.4h0.55M38.9 229.5h0.55M32.5 230.1h0.55M31.4 231.9h0.55M34.1 218.0h0.55M34.4 216.8h0.55M35.2 231.3h0.55M34.4 233.3h0.55M39.6 217.1h0.55M45.7 224.9h0.55M33.7 224.4h0.55M27.3 214.8h0.55M35.6 225.7h0.55M42.4 217.5h0.55M40.5 231.3h0.55M24.5 228.6h0.55M31.1 234.3h0.55M38.9 227.6h0.55M34.5 230.8h0.55M35.7 231.1h0.55M35.0 232.6h0.55M35.1 215.6h0.55M30.6 217.7h0.55M43.1 214.4h0.55M25.1 217.4h0.55M36.4 232.9h0.55M34.0 226.3h0.55M35.4 228.1h0.55M41.0 220.3h0.55M23.2 233.4h0.55M42.9 213.7h0.55M31.9 219.6h0.55M35.5 218.1h0.55M37.6 220.5h0.55M33.5 223.2h0.55M37.6 235.1h0.55M41.5 214.3h0.55M29.7 209.9h0.55M24.2 226.9h0.55M27.9 231.7h0.55M30.8 235.1h0.55M36.2 224.0h0.55M42.3 214.0h0.55M33.9 234.0h0.55M33.5 218.7h0.55M34.0 235.1h0.55M43.4 230.0h0.55M22.0 219.8h0.55M30.8 227.7h0.55M40.0 215.7h0.55M37.4 214.5h0.55M44.0 228.6h0.55M44.7 217.4h0.55M37.2 227.1h0.55" stroke="#333" stroke-width="0.55" opacity="0.5" fill="none"/>
<path d="M36.4 194.4h0.55M38.6 196.3h0.55M24.3 195.0h0.55M28.8 193.7h0.55M26.8 196.5h0.55M32.2 193.9h0.55M36.5 194.1h0.55M38.8 189.3h0.55M30.0 194.5h0.55M34.0 193.8h0.55M31.9 196.6h0.55M39.8 193.0h0.55M36.2 193.9h0.55M32.9 193.6h0.55M29.4 194.7h0.55M31.0 192.5h0.55M37.3 193.6h0.55M32.0 195.3h0.55M27.0 192.1h0.55M32.0 195.9h0.55M35.2 193.7h0.55M34.5 192.1h0.55M26.7 195.7h0.55M40.0 192.1h0.55M30.6 197.1h0.55M36.2 196.1h0.55M37.8 195.7h0.55M30.4 191.0h0.55M26.5 199.9h0.55M26.0 197.4h0.55M34.4 190.1h0.55M35.7 193.2h0.55M25.8 195.5h0.55M32.6 192.8h0.55M35.3 195.9h0.55M29.6 192.8h0.55M29.3 194.4h0.55M28.1 198.6h0.55M33.7 194.0h0.55M34.5 192.5h0.55M35.7 194.7h0.55M28.2 197.1h0.55M40.5 190.5h0.55M35.9 193.5h0.55M36.8 190.4h0.55M29.7 198.9h0.55M34.3 193.7h0.55M33.6 195.9h0.55M38.6 192.3h0.55M33.0 195.8h0.55M37.8 189.3h0.55M27.8 195.0h0.55M38.4 190.4h0.55M29.3 193.8h0.55M33.6 193.7h0.55M31.8 190.4h0.55M36.0 192.8h0.55M39.4 192.1h0.55M36.5 194.7h0.55M30.9 194.2h0.55M34.7 198.4h0.55M32.3 191.6h0.55M36.0 194.9h0.55M35.6 189.2h0.55M31.1 191.5h0.55M32.5 195.3h0.55M27.5 195.9h0.55M29.1 195.6h0.55M35.5 192.3h0.55M36.7 190.4h0.55M27.7 194.1h0.55M30.8 197.4h0.55M35.3 192.7h0.55M28.9 194.6h0.55M28.6 194.1h0.55M37.2 191.5h0.55M34.2 191.6h0.55M27.6 194.5h0.55M28.0 195.8h0.55M35.2 193.5h0.55M33.6 193.7h0.55M31.1 194.3h0.55M29.3 196.3h0.55M30.8 195.6h0.55M26.8 192.3h0.55M33.5 193.7h0.55M37.8 193.0h0.55M37.9 192.0h0.55M32.2 193.5h0.55M28.8 192.6h0.55M33.8 192.2h0.55M28.8 195.1h0.55M38.4 192.1h0.55M37.2 194.4h0.55M29.8 191.6h0.55M35.5 196.4h0.55M27.7 193.6h0.55M28.5 195.4h0.55M37.3 193.8h0.55M28.4 192.5h0.55M34.3 190.8h0.55M27.8 194.6h0.55M29.3 195.2h0.55M31.9 192.1h0.55M27.1 197.7h0.55M33.7 193.7h0.55M33.3 193.2h0.55M36.8 195.6h0.55M31.6 198.1h0.55M29.9 195.6h0.55M39.7 192.0h0.55M33.0 191.0h0.55M41.4 191.3h0.55M27.5 194.1h0.55M29.0 193.2h0.55M34.5 193.5h0.55M35.2 187.3h0.55M40.3 190.7h0.55M32.4 194.0h0.55M31.8 194.4h0.55M31.3 193.8h0.55M26.6 195.2h0.55M26.9 195.7h0.55M31.6 193.7h0.55M29.0 194.9h0.55M39.3 194.2h0.55M30.1 192.1h0.55M37.7 192.7h0.55M27.7 196.4h0.55M32.3 193.4h0.55M35.5 192.5h0.55M34.6 191.8h0.55M27.5 194.3h0.55M35.8 194.5h0.55M30.3 193.1h0.55M38.2 193.8h0.55M38.6 194.1h0.55M33.2 193.6h0.55M28.7 193.9h0.55M31.9 190.9h0.55M38.9 195.3h0.55M31.2 192.1h0.55M37.5 193.0h0.55M27.3 195.0h0.55M29.0 192.8h0.55M38.8 194.3h0.55M33.0 194.7h0.55M38.6 190.1h0.55M36.2 189.2h0.55M36.4 194.2h0.55M27.9 195.9h0.55M31.8 192.9h0.55M33.5 196.1h0.55M32.5 197.4h0.55M42.2 189.0h0.55M25.5 196.8h0.55M29.1 190.3h0.55M24.4 195.4h0.55M37.8 193.0h0.55M30.0 194.0h0.55M27.6 200.6h0.55M25.3 194.9h0.55M34.0 195.6h0.55M29.4 193.5h0.55M26.6 195.6h0.55M32.2 193.6h0.55M37.3 193.3h0.55M34.6 194.9h0.55M30.9 197.5h0.55M35.9 193.7h0.55M26.1 198.1h0.55M41.9 191.0h0.55M27.8 191.6h0.55M34.0 193.5h0.55M27.4 196.0h0.55M32.7 191.0h0.55M28.9 195.0h0.55M29.1 198.6h0.55M27.8 190.8h0.55M33.6 193.5h0.55M32.7 191.5h0.55M33.6 194.5h0.55M35.5 193.7h0.55M29.6 192.1h0.55M32.2 193.3h0.55M26.8 193.5h0.55M29.4 195.6h0.55M39.3 191.4h0.55M33.4 195.7h0.55M37.3 193.1h0.55M28.2 192.6h0.55M31.6 192.8h0.55M27.7 194.7h0.55M28.9 192.3h0.55M30.6 198.1h0.55M39.4 191.8h0.55M26.4 194.9h0.55M37.4 191.1h0.55M31.6 193.0h0.55M31.2 191.2h0.55M34.7 194.2h0.55M30.9 194.8h0.55M35.2 192.1h0.55M37.4 193.2h0.55M26.8 196.1h0.55M33.7 193.6h0.55M27.3 193.3h0.55M34.2 192.0h0.55M28.6 195.3h0.55M33.3 191.7h0.55M23.8 196.9h0.55M34.8 193.6h0.55M37.9 192.3h0.55M37.9 190.8h0.55M35.0 192.5h0.55M32.6 192.1h0.55M28.8 192.3h0.55M27.0 196.0h0.55M37.5 190.0h0.55M26.4 194.6h0.55M31.1 196.0h0.55M25.2 193.1h0.55M38.7 191.7h0.55M35.4 192.0h0.55M34.3 195.0h0.55M29.5 194.3h0.55M37.5 192.8h0.55M34.8 191.2h0.55M27.8 196.4h0.55M29.6 196.4h0.55M35.9 193.7h0.55M39.4 195.8h0.55M31.1 195.3h0.55M38.2 192.0h0.55M34.7 191.8h0.55M34.4 193.3h0.55M36.3 194.3h0.55M36.5 192.0h0.55M34.6 193.5h0.55M34.6 193.6h0.55M28.7 194.6h0.55M36.3 196.3h0.55M30.2 191.6h0.55M34.2 191.9h0.55M35.6 192.3h0.55M37.6 194.8h0.55M32.9 195.7h0.55M33.9 193.7h0.55M39.3 193.2h0.55M34.1 193.0h0.55M29.6 197.4h0.55M32.8 192.1h0.55M39.3 194.7h0.55M26.7 195.7h0.55M34.7 192.5h0.55M30.3 198.9h0.55M27.6 191.7h0.55M28.1 193.9h0.55M29.7 195.7h0.55M34.9 190.2h0.55M32.3 194.1h0.55M34.6 192.7h0.55M27.5 193.8h0.55M33.1 193.5h0.55M36.1 194.0h0.55M37.3 195.6h0.55M40.5 188.9h0.55M38.9 190.0h0.55M38.0 190.0h0.55M35.7 194.8h0.55M31.5 191.4h0.55M30.1 194.3h0.55M26.2 196.0h0.55M38.5 194.1h0.55M36.2 192.4h0.55M29.0 195.9h0.55M28.2 194.4h0.55M28.4 196.6h0.55M36.7 193.2h0.55M40.7 195.2h0.55M25.8 194.4h0.55M27.5 196.5h0.55M30.7 195.2h0.55M32.5 198.7h0.55M29.3 196.4h0.55M30.5 193.7h0.55M33.5 197.1h0.55M28.9 195.4h0.55M32.9 196.7h0.55M31.2 192.5h0.55M30.3 193.2h0.55M34.5 193.8h0.55M27.6 195.9h0.55M27.6 193.4h0.55M38.8 194.0h0.55M29.3 196.9h0.55M33.9 197.2h0.55M33.8 194.7h0.55M34.5 193.7h0.55M31.9 193.3h0.55M36.5 194.8h0.55M37.2 194.2h0.55M32.9 195.1h0.55M26.8 192.9h0.55M41.7 190.9h0.55M39.3 192.0h0.55M29.8 193.8h0.55M33.5 192.2h0.55M32.6 195.8h0.55M31.2 196.9h0.55M34.5 192.2h0.55M33.5 197.3h0.55M27.6 192.9h0.55M31.4 195.2h0.55M33.4 192.4h0.55M27.4 198.3h0.55M28.7 194.3h0.55M26.3 192.9h0.55M24.3 196.5h0.55M30.0 193.7h0.55M35.2 194.4h0.55M33.3 195.0h0.55M30.3 192.8h0.55M29.8 192.9h0.55M30.3 195.0h0.55M27.7 194.8h0.55M26.7 197.6h0.55M36.1 192.9h0.55M36.1 193.5h0.55M32.8 193.3h0.55M36.8 193.1h0.55M32.8 195.0h0.55M28.5 193.6h0.55M34.1 191.4h0.55M38.8 195.4h0.55M33.0 191.4h0.55M35.8 192.2h0.55M41.5 190.9h0.55M31.2 191.4h0.55M38.1 190.5h0.55M31.7 191.2h0.55M33.5 193.3h0.55M25.2 195.7h0.55M39.8 194.4h0.55M30.1 196.9h0.55M34.0 195.0h0.55M34.9 192.6h0.55M32.1 194.4h0.55M36.9 194.9h0.55M39.1 189.9h0.55M31.1 194.7h0.55M35.1 190.5h0.55M28.1 191.2h0.55M32.9 192.8h0.55M28.4 194.5h0.55M31.2 197.9h0.55M30.4 195.0h0.55M32.2 192.1h0.55M34.9 193.3h0.55M39.1 194.8h0.55M39.5 193.0h0.55M29.8 197.6h0.55M33.9 194.0h0.55M33.4 195.2h0.55M37.8 193.2h0.55M35.3 194.8h0.55M36.2 194.4h0.55M29.9 191.7h0.55M38.1 191.8h0.55M27.6 191.4h0.55M25.6 196.2h0.55M33.3 191.8h0.55M36.4 191.4h0.55M33.5 195.2h0.55M32.8 192.7h0.55M38.2 194.1h0.55M39.0 192.3h0.55M42.2 192.9h0.55M30.4 195.1h0.55M27.8 194.6h0.55M27.0 195.7h0.55M31.2 196.8h0.55M34.9 192.5h0.55M30.2 192.3h0.55M33.0 193.5h0.55M30.3 195.6h0.55M33.5 196.7h0.55M34.1 192.8h0.55M36.1 192.9h0.55M28.5 192.8h0.55M35.4 192.7h0.55M29.9 194.1h0.55M32.8 192.9h0.55M28.9 195.0h0.55M37.6 193.8h0.55M28.5 193.9h0.55M28.8 198.9h0.55M32.2 191.7h0.55M29.2 194.5h0.55M38.6 191.8h0.55M31.2 194.2h0.55M31.1 192.7h0.55M27.6 191.2h0.55M29.3 190.7h0.55M40.4 193.8h0.55M29.7 191.6h0.55M34.0 191.4h0.55M41.4 191.2h0.55M35.6 191.4h0.55M31.9 193.9h0.55M30.6 191.1h0.55M35.1 191.1h0.55M33.7 193.4h0.55M32.7 193.5h0.55M33.1 194.4h0.55M39.6 193.0h0.55M37.7 191.6h0.55M38.1 194.2h0.55M37.5 191.9h0.55M28.0 194.9h0.55M27.4 193.6h0.55M39.0 191.2h0.55M35.2 195.5h0.55M27.7 191.9h0.55M33.5 191.9h0.55M26.5 198.1h0.55M34.3 194.6h0.55M32.7 193.8h0.55M33.7 196.7h0.55M27.4 191.4h0.55M42.0 187.8h0.55M50.3 191.3h0.55M45.2 189.5h0.55M47.4 191.8h0.55M58.9 184.1h0.55M61.5 182.0h0.55M59.7 187.5h0.55M57.2 182.9h0.55M38.6 191.8h0.55M51.5 188.9h0.55M48.8 185.5h0.55M44.7 191.3h0.55M42.3 187.1h0.55M39.4 194.7h0.55M62.5 184.6h0.55M46.1 190.4h0.55M51.0 188.4h0.55M49.1 187.3h0.55M40.7 191.9h0.55M42.6 193.5h0.55M61.2 186.5h0.55M57.7 184.2h0.55M58.0 186.2h0.55M61.4 189.6h0.55M56.6 186.6h0.55M54.6 189.7h0.55M54.3 189.4h0.55M44.3 188.2h0.55M54.3 186.3h0.55M59.5 182.8h0.55M50.2 187.8h0.55M50.5 190.6h0.55M44.6 190.5h0.55M58.7 184.0h0.55M48.8 186.7h0.55M47.2 188.4h0.55M57.1 185.0h0.55M55.0 188.1h0.55M44.7 191.7h0.55M47.0 189.7h0.55M46.1 184.5h0.55M39.7 186.8h0.55M48.6 186.4h0.55M47.0 192.7h0.55M47.2 190.9h0.55M57.6 183.5h0.55M56.9 188.1h0.55M38.5 193.9h0.55M41.6 190.8h0.55M52.9 188.0h0.55M54.3 187.3h0.55M58.2 181.2h0.55M44.9 193.2h0.55M43.2 190.2h0.55M52.1 188.5h0.55M48.8 188.7h0.55M55.0 190.3h0.55M56.7 183.0h0.55M42.3 191.3h0.55M51.9 188.6h0.55M44.0 188.8h0.55M45.6 189.6h0.55M39.8 193.6h0.55M40.7 188.6h0.55M57.0 186.6h0.55M40.1 188.7h0.55M56.6 188.0h0.55M44.2 187.6h0.55M41.7 190.2h0.55M49.1 192.2h0.55M54.9 185.3h0.55M37.9 189.1h0.55M39.6 187.9h0.55M44.9 188.9h0.55M59.4 182.9h0.55M56.1 186.3h0.55M50.2 188.9h0.55M47.6 190.9h0.55M56.9 184.8h0.55M59.3 187.5h0.55M56.1 184.3h0.55M43.6 190.0h0.55M53.3 188.0h0.55M49.6 190.3h0.55M54.0 184.2h0.55M58.7 191.8h0.55M51.3 186.8h0.55M39.7 187.9h0.55M54.0 189.5h0.55M54.8 182.5h0.55M40.2 191.0h0.55M52.5 187.1h0.55M46.9 185.0h0.55M37.7 191.2h0.55M43.0 187.9h0.55M46.4 190.6h0.55M41.6 192.0h0.55M57.7 183.0h0.55M48.2 188.8h0.55M48.7 189.0h0.55M58.2 187.2h0.55M50.3 188.0h0.55M40.1 189.2h0.55M39.1 191.6h0.55M62.7 184.9h0.55M36.9 189.7h0.55M57.8 187.9h0.55M48.5 188.8h0.55M52.4 189.8h0.55M49.5 190.0h0.55M37.1 194.4h0.55M45.6 188.9h0.55M57.4 183.8h0.55M55.6 189.6h0.55M38.6 193.2h0.55M46.4 188.9h0.55M61.5 188.4h0.55M59.0 182.1h0.55M58.3 186.3h0.55M39.2 188.6h0.55M56.9 186.9h0.55M49.1 186.0h0.55M39.4 188.3h0.55M45.4 185.0h0.55M53.0 187.8h0.55M49.6 189.1h0.55M45.9 194.1h0.55M47.8 187.3h0.55M61.1 183.2h0.55M48.8 191.5h0.55M45.6 189.1h0.55M52.6 189.2h0.55M54.8 187.2h0.55M49.5 187.9h0.55M49.9 187.5h0.55M54.9 186.4h0.55M58.8 182.7h0.55M52.1 189.7h0.55M40.9 197.1h0.55M48.0 190.9h0.55M38.8 190.6h0.55M41.4 186.6h0.55M38.0 189.1h0.55M49.5 188.5h0.55M45.4 189.1h0.55M60.6 188.1h0.55M57.8 183.5h0.55M50.3 187.3h0.55M44.8 190.5h0.55M51.5 187.2h0.55M47.2 189.0h0.55M55.4 186.2h0.55M59.8 185.8h0.55M50.1 188.4h0.55M44.7 188.1h0.55M61.2 185.2h0.55M45.8 188.8h0.55M56.6 183.1h0.55M58.7 186.7h0.55M43.9 191.5h0.55M55.1 186.0h0.55M47.4 191.9h0.55M53.1 187.3h0.55M61.7 186.3h0.55M41.5 188.4h0.55M50.7 185.4h0.55M44.1 185.0h0.55M38.5 191.7h0.55M53.8 188.2h0.55M55.6 186.2h0.55M54.4 186.9h0.55M48.3 192.5h0.55M42.0 189.1h0.55M55.4 186.1h0.55M55.2 185.5h0.55M39.8 189.0h0.55M40.1 190.4h0.55M45.5 187.9h0.55M56.5 184.2h0.55M47.8 189.5h0.55M57.4 184.9h0.55M55.1 186.9h0.55M54.6 184.9h0.55M61.7 182.6h0.55M56.6 185.3h0.55M59.0 185.9h0.55M45.6 188.7h0.55M46.6 190.9h0.55M54.8 184.5h0.55M59.2 185.7h0.55M37.1 191.0h0.55M43.4 190.3h0.55M41.3 190.7h0.55M38.9 189.3h0.55M51.8 185.3h0.55M59.5 180.5h0.55M41.3 189.4h0.55M60.9 179.6h0.55M55.0 188.0h0.55M58.2 187.1h0.55M51.4 185.8h0.55M52.4 185.3h0.55M55.3 185.7h0.55M48.3 188.5h0.55M44.2 192.1h0.55M55.5 192.1h0.55M49.9 186.0h0.55M37.5 193.7h0.55M41.8 191.0h0.55M49.9 188.9h0.55M45.7 188.4h0.55M49.4 191.2h0.55M52.5 186.4h0.55M54.5 188.9h0.55M49.8 183.2h0.55M46.9 188.1h0.55M55.8 187.3h0.55M47.4 189.4h0.55M47.2 192.6h0.55M53.9 187.9h0.55M60.2 186.8h0.55M49.8 191.5h0.55M62.2 185.8h0.55M41.2 191.3h0.55M54.5 186.4h0.55M39.4 193.0h0.55M40.2 191.9h0.55M58.7 185.3h0.55M47.7 187.9h0.55M54.5 184.4h0.55M42.7 195.0h0.55M54.8 186.0h0.55M54.8 187.9h0.55M57.0 186.2h0.55M57.3 186.5h0.55M45.7 192.8h0.55M60.7 185.9h0.55M60.7 185.6h0.55M44.9 183.5h0.55M50.0 186.7h0.55M49.2 183.3h0.55M55.5 182.4h0.55M61.5 184.3h0.55M48.8 189.2h0.55M50.3 189.4h0.55M45.6 189.5h0.55M47.0 186.1h0.55M53.6 187.0h0.55M58.0 183.3h0.55M52.0 185.4h0.55M47.5 188.8h0.55M54.6 189.8h0.55M46.5 187.3h0.55M61.5 183.9h0.55M46.4 191.0h0.55M54.0 188.0h0.55M62.6 186.9h0.55M53.7 187.7h0.55M55.3 184.3h0.55M42.3 187.6h0.55M33.3 207.0h0.55M30.2 207.2h0.55M29.8 206.5h0.55M38.8 212.8h0.55M23.5 211.9h0.55M23.2 203.1h0.55M34.7 208.2h0.55M28.7 207.8h0.55M33.7 209.1h0.55M29.4 205.4h0.55M35.3 208.7h0.55M27.7 213.0h0.55M33.9 211.7h0.55M34.5 207.3h0.55M27.7 211.7h0.55M25.8 205.6h0.55M39.5 209.7h0.55M33.6 211.0h0.55M30.3 205.4h0.55M38.4 205.1h0.55M24.9 201.7h0.55M39.6 212.9h0.55M35.8 208.7h0.55M27.2 204.6h0.55M35.0 205.6h0.55M22.9 207.0h0.55M34.8 211.2h0.55M38.1 208.7h0.55M26.6 203.2h0.55M36.6 201.0h0.55M29.5 203.2h0.55M39.6 207.5h0.55M32.0 209.9h0.55M37.8 205.3h0.55M33.6 205.5h0.55M24.9 201.4h0.55M37.8 208.0h0.55M28.2 209.2h0.55M22.6 201.1h0.55M30.4 212.6h0.55M29.8 211.9h0.55M30.2 211.7h0.55M33.4 208.5h0.55M33.6 205.9h0.55M24.7 202.6h0.55M29.4 211.1h0.55M32.4 201.4h0.55M37.9 202.3h0.55M33.2 212.3h0.55M40.7 203.1h0.55M32.7 208.7h0.55M39.2 205.2h0.55M32.5 201.5h0.55M31.3 208.0h0.55M33.5 201.6h0.55M31.1 209.0h0.55M45.5 209.3h0.55M39.0 202.9h0.55M32.4 202.1h0.55M35.0 205.2h0.55M42.7 210.0h0.55M25.6 208.6h0.55M28.3 208.9h0.55M30.7 207.0h0.55M25.6 204.6h0.55M40.3 205.9h0.55M27.9 205.1h0.55M21.2 206.2h0.55M30.9 205.3h0.55M36.2 210.5h0.55M36.4 204.4h0.55M39.8 207.9h0.55M34.4 206.8h0.55M31.3 203.3h0.55M29.0 203.7h0.55M27.4 203.8h0.55M32.4 211.7h0.55M38.6 211.5h0.55M35.4 206.5h0.55M28.7 203.4h0.55M20.9 202.1h0.55M37.3 205.7h0.55M37.6 204.6h0.55M44.0 206.8h0.55M42.0 207.2h0.55M36.7 210.6h0.55M32.4 204.2h0.55M25.1 204.0h0.55M32.6 212.2h0.55M33.0 209.6h0.55M28.8 201.9h0.55M34.2 207.7h0.55M34.4 202.2h0.55M31.3 209.2h0.55M24.4 205.9h0.55M35.8 212.8h0.55M37.4 207.4h0.55M30.5 208.0h0.55M24.3 209.5h0.55M37.1 210.8h0.55M33.9 207.5h0.55M40.5 208.0h0.55M44.0 206.4h0.55M35.0 202.9h0.55M38.3 209.9h0.55M28.5 209.9h0.55M25.3 201.7h0.55M25.5 205.0h0.55M38.0 203.6h0.55M40.7 201.3h0.55M36.2 207.5h0.55M36.6 206.5h0.55M33.2 207.3h0.55M34.2 204.0h0.55M35.6 202.8h0.55M35.0 205.8h0.55M37.1 203.0h0.55M39.3 209.8h0.55M37.5 201.9h0.55M30.6 212.6h0.55M40.9 210.1h0.55M38.0 206.8h0.55M36.4 209.6h0.55M32.0 211.9h0.55M42.5 206.2h0.55M27.6 207.1h0.55M37.1 204.1h0.55M29.6 201.4h0.55M34.9 212.2h0.55M36.9 204.7h0.55M25.1 209.3h0.55M45.9 206.2h0.55M38.1 204.5h0.55M37.2 212.4h0.55M21.0 204.2h0.55M41.1 201.6h0.55M35.8 210.5h0.55M32.7 208.1h0.55M31.8 206.1h0.55M44.2 212.8h0.55M21.7 212.2h0.55M29.3 205.5h0.55M30.8 208.9h0.55M25.7 201.3h0.55M30.5 203.3h0.55M25.4 202.1h0.55M40.3 202.3h0.55M36.8 211.2h0.55M43.2 206.1h0.55M36.4 208.3h0.55M39.3 211.3h0.55M37.8 201.3h0.55M30.9 209.0h0.55M31.0 210.6h0.55M26.7 210.7h0.55M26.8 202.5h0.55M26.8 212.4h0.55M32.8 203.0h0.55M31.9 208.7h0.55M29.5 204.3h0.55M46.1 206.8h0.55M21.0 204.6h0.55M33.7 211.7h0.55M32.8 212.4h0.55M27.0 211.6h0.55M34.0 201.5h0.55M27.1 203.6h0.55M32.4 208.7h0.55M31.8 205.2h0.55M26.2 211.1h0.55M40.6 210.0h0.55M27.6 212.8h0.55M36.2 212.1h0.55M32.3 211.8h0.55M32.6 201.5h0.55M40.0 203.4h0.55M39.4 210.0h0.55M32.7 211.9h0.55M31.0 213.0h0.55M25.4 210.6h0.55M21.0 206.7h0.55M39.9 209.4h0.55M22.4 202.0h0.55M28.0 205.4h0.55M40.2 203.0h0.55M31.1 206.7h0.55M34.8 202.2h0.55M33.4 212.2h0.55M30.2 202.3h0.55M28.6 203.4h0.55M28.2 208.5h0.55M26.8 203.2h0.55M31.7 206.7h0.55M37.9 203.9h0.55M27.5 205.0h0.55M35.3 206.7h0.55M32.7 207.2h0.55M33.6 202.3h0.55M34.2 211.1h0.55M29.6 206.4h0.55M35.3 201.6h0.55M43.0 210.1h0.55M39.0 203.4h0.55M33.1 204.8h0.55M36.0 207.3h0.55M34.1 211.2h0.55M27.5 213.0h0.55M32.5 202.6h0.55M33.3 209.1h0.55M42.0 201.7h0.55M42.6 201.7h0.55M39.6 207.7h0.55M33.9 208.2h0.55M37.7 205.4h0.55M37.4 209.9h0.55M35.7 203.2h0.55M25.7 206.5h0.55M36.9 205.2h0.55M32.3 208.4h0.55M35.2 209.3h0.55M34.0 206.5h0.55M23.6 202.2h0.55M32.1 208.2h0.55M30.2 209.6h0.55M42.4 206.0h0.55M39.4 209.4h0.55M41.6 207.8h0.55M33.6 203.9h0.55M20.6 209.3h0.55M35.5 211.8h0.55M29.9 204.8h0.55M41.0 212.7h0.55M32.0 211.6h0.55M35.1 206.5h0.55M28.8 208.0h0.55M35.9 211.8h0.55M28.6 203.6h0.55M30.9 203.0h0.55M33.6 204.5h0.55M40.8 208.4h0.55M36.1 205.7h0.55M36.0 209.2h0.55M27.4 202.0h0.55M33.5 202.9h0.55M35.0 211.2h0.55M38.9 205.5h0.55M39.6 209.1h0.55M41.2 212.6h0.55M26.5 212.6h0.55M20.8 210.2h0.55M43.7 204.3h0.55M30.8 211.1h0.55M39.9 202.2h0.55M40.4 208.1h0.55M28.8 205.9h0.55M29.9 209.6h0.55M37.8 206.3h0.55M31.5 202.0h0.55M23.0 201.2h0.55M67.1 190.8h0.55M60.9 202.7h0.55M32.0 180.7h0.55M42.0 213.6h0.55M23.7 180.6h0.55M35.1 229.3h0.55M57.8 194.4h0.55M40.8 203.3h0.55M55.7 196.0h0.55M38.4 208.2h0.55M32.6 204.0h0.55M57.6 208.3h0.55M23.7 199.5h0.55M48.9 193.0h0.55M40.0 211.3h0.55M38.9 190.2h0.55M63.9 183.7h0.55M65.4 185.3h0.55M48.1 210.5h0.55M41.1 215.1h0.55M64.3 197.9h0.55M23.9 191.2h0.55M64.0 213.5h0.55M57.9 201.8h0.55M36.9 218.6h0.55M48.8 231.1h0.55M28.9 199.2h0.55M54.9 230.8h0.55M43.9 224.1h0.55M26.4 215.8h0.55M37.1 218.8h0.55M35.6 190.5h0.55M34.2 220.5h0.55M55.9 231.1h0.55M41.3 183.7h0.55M60.6 194.4h0.55M56.2 207.4h0.55M42.8 181.7h0.55M32.1 221.9h0.55M43.5 229.4h0.55M60.5 209.9h0.55M69.2 180.1h0.55M40.6 209.9h0.55M23.6 228.8h0.55M28.3 212.5h0.55M34.3 201.4h0.55M43.8 196.2h0.55M29.4 217.4h0.55M51.7 184.5h0.55M68.7 186.0h0.55" stroke="#333" stroke-width="0.55" opacity="0.42" fill="none"/>
<rect x="21.8" y="183.2" width="15" height="19.3" fill="none" stroke="#b2b2b2" stroke-width="0.8"/>
<rect x="36.8" y="180.7" width="30.7" height="21.8" fill="none" stroke="#b2b2b2" stroke-width="0.8"/>
<rect x="105.5" y="166.8" width="69.5" height="69.5" fill="#fff" stroke="#222" stroke-width="0.9"/>
<path d="M124.9 203.6h0.55M119.0 204.5h0.55M126.5 200.5h0.55M115.9 200.7h0.55M123.7 204.2h0.55M111.2 205.0h0.55M125.2 198.2h0.55M129.6 201.9h0.55M126.8 198.4h0.55M116.8 204.9h0.55M133.1 201.4h0.55M122.7 200.4h0.55M112.9 205.6h0.55M123.4 205.0h0.55M119.3 205.0h0.55M119.4 203.7h0.55M132.9 198.5h0.55M129.9 200.8h0.55M117.9 202.8h0.55M128.2 199.0h0.55M122.3 200.1h0.55M119.0 201.5h0.55M129.3 199.5h0.55M132.0 199.5h0.55M119.5 205.0h0.55M133.1 198.6h0.55M127.8 197.8h0.55M121.4 200.8h0.55M128.6 197.5h0.55M120.7 200.0h0.55M124.6 198.0h0.55M115.4 210.4h0.55M125.4 197.2h0.55M129.4 197.2h0.55M111.9 207.6h0.55M132.0 198.2h0.55M117.0 203.7h0.55M137.1 201.6h0.55M128.2 197.7h0.55M112.5 203.9h0.55M130.5 201.1h0.55M124.0 205.3h0.55M118.6 205.2h0.55M129.3 199.1h0.55M124.8 201.7h0.55M127.7 198.3h0.55M122.5 201.9h0.55M124.2 201.5h0.55M125.6 200.8h0.55M120.8 204.7h0.55M119.9 201.1h0.55M118.3 199.0h0.55M126.9 201.0h0.55M123.1 202.9h0.55M122.9 203.5h0.55M135.6 201.1h0.55M122.3 206.3h0.55M128.5 196.4h0.55M132.5 201.1h0.55M129.5 197.7h0.55M118.6 200.4h0.55M127.5 198.0h0.55M119.5 204.7h0.55M119.9 202.3h0.55M118.2 197.5h0.55M123.5 201.2h0.55M114.8 205.3h0.55M129.2 203.3h0.55M120.7 198.7h0.55M123.4 202.0h0.55M122.9 200.0h0.55M117.6 200.2h0.55M123.5 200.2h0.55M134.6 199.5h0.55M126.9 199.9h0.55M122.8 199.0h0.55M120.9 197.7h0.55M110.7 206.8h0.55M117.3 203.5h0.55M123.2 200.0h0.55M128.6 199.4h0.55M126.8 200.1h0.55M130.2 203.4h0.55M124.4 204.5h0.55M127.2 205.4h0.55M123.2 197.3h0.55M125.3 202.0h0.55M121.7 201.2h0.55M122.3 198.3h0.55M134.9 198.1h0.55M117.2 198.0h0.55M118.6 202.0h0.55M133.4 202.0h0.55M119.4 198.6h0.55M116.9 202.1h0.55M129.5 199.5h0.55M134.2 205.6h0.55M125.0 195.4h0.55M130.9 200.4h0.55M128.2 203.7h0.55M117.6 202.4h0.55M125.1 199.3h0.55M128.4 200.6h0.55M121.4 207.0h0.55M125.1 205.8h0.55M123.0 204.5h0.55M119.2 202.5h0.55M130.9 194.7h0.55M127.4 200.3h0.55M130.9 201.2h0.55M123.5 198.0h0.55M142.7 197.2h0.55M121.9 199.8h0.55M122.1 202.3h0.55M115.5 205.4h0.55M122.3 203.3h0.55M110.6 201.7h0.55M122.1 200.7h0.55M119.7 202.9h0.55M126.6 198.5h0.55M111.5 205.0h0.55M121.9 204.7h0.55M129.5 200.5h0.55M114.9 201.6h0.55M119.3 205.5h0.55M113.2 205.3h0.55M114.2 201.1h0.55M115.0 200.7h0.55M121.2 202.8h0.55M120.2 203.8h0.55M135.1 200.6h0.55M116.7 201.9h0.55M123.3 200.6h0.55M131.3 203.8h0.55M136.7 201.4h0.55M107.0 203.2h0.55M128.2 198.8h0.55M120.1 204.4h0.55M124.9 198.3h0.55M120.3 193.5h0.55M123.9 198.1h0.55M123.6 198.3h0.55M118.1 200.8h0.55M141.6 196.1h0.55M116.4 200.9h0.55M130.7 202.9h0.55M128.4 200.1h0.55M124.8 199.3h0.55M122.8 199.4h0.55M114.7 199.9h0.55M136.2 201.1h0.55M119.2 201.8h0.55M121.1 205.2h0.55M123.8 199.8h0.55M128.3 201.9h0.55M119.6 199.9h0.55M124.8 196.9h0.55M118.2 205.0h0.55M129.4 203.9h0.55M121.1 200.2h0.55M122.2 200.4h0.55M132.1 199.9h0.55M132.5 198.5h0.55M126.3 205.7h0.55M119.2 200.3h0.55M120.1 197.5h0.55M122.1 200.0h0.55M137.9 198.5h0.55M110.4 205.7h0.55M130.0 200.7h0.55M125.8 203.2h0.55M120.4 202.0h0.55M124.8 205.9h0.55M132.9 200.9h0.55M115.4 204.9h0.55M123.6 204.7h0.55M124.3 202.0h0.55M128.1 199.0h0.55M119.8 208.3h0.55M118.4 204.7h0.55M128.2 203.2h0.55M132.6 196.8h0.55M130.0 195.1h0.55M124.3 202.4h0.55M130.4 203.7h0.55M118.0 201.5h0.55M122.9 199.7h0.55M118.7 200.3h0.55M131.2 204.4h0.55M128.7 205.5h0.55M124.5 198.4h0.55M119.8 202.6h0.55M130.4 204.0h0.55M118.2 204.8h0.55M120.5 203.5h0.55M129.7 204.9h0.55M120.6 202.6h0.55M126.6 200.0h0.55M124.5 203.1h0.55M113.5 201.0h0.55M138.5 201.0h0.55M120.4 196.9h0.55M117.9 203.7h0.55M128.2 202.2h0.55M127.7 199.4h0.55M134.0 197.2h0.55M127.1 200.4h0.55M113.1 205.3h0.55M122.2 203.7h0.55M132.0 201.0h0.55M119.7 201.4h0.55M123.5 205.5h0.55M129.3 205.2h0.55M128.7 198.8h0.55M129.8 203.5h0.55M123.1 202.9h0.55M121.9 198.3h0.55M123.3 203.7h0.55M121.6 195.6h0.55M118.9 205.1h0.55M125.3 204.4h0.55M119.1 200.9h0.55M117.6 200.1h0.55M127.1 201.5h0.55M120.8 202.7h0.55M115.6 201.4h0.55M114.4 198.5h0.55M115.3 199.5h0.55M133.9 204.1h0.55M131.9 199.0h0.55M127.8 197.9h0.55M120.5 202.6h0.55M113.8 203.3h0.55M127.8 195.3h0.55M108.4 202.6h0.55M123.1 202.0h0.55M116.7 203.9h0.55M124.7 199.4h0.55M134.3 201.0h0.55M128.6 206.1h0.55M120.8 201.3h0.55M112.9 202.2h0.55M126.7 208.1h0.55M127.5 201.6h0.55M115.9 200.1h0.55M112.2 199.1h0.55M124.6 202.2h0.55M118.1 201.6h0.55M118.8 203.8h0.55M127.9 199.5h0.55M121.0 198.5h0.55M120.9 207.9h0.55M123.8 203.9h0.55M127.6 205.1h0.55M121.8 199.3h0.55M130.5 203.3h0.55M119.7 205.0h0.55M123.8 201.4h0.55M135.5 201.6h0.55M125.9 200.4h0.55M125.2 204.3h0.55M126.8 199.1h0.55M126.7 200.8h0.55M125.8 200.7h0.55M110.1 198.7h0.55M121.5 195.7h0.55M114.4 208.3h0.55M128.3 199.7h0.55M126.0 195.1h0.55M125.5 204.0h0.55M125.1 197.7h0.55M130.0 199.3h0.55M120.3 202.5h0.55M122.0 207.4h0.55M123.0 207.6h0.55M126.8 197.7h0.55M123.9 201.7h0.55M133.0 204.0h0.55M140.1 197.7h0.55M121.1 208.3h0.55M118.2 203.2h0.55M134.1 197.5h0.55M121.7 199.7h0.55M127.2 202.2h0.55M123.6 203.4h0.55M118.9 201.1h0.55M126.9 206.8h0.55M123.7 201.7h0.55M132.2 200.7h0.55M132.2 201.2h0.55M131.2 201.1h0.55M118.1 199.8h0.55M126.6 206.4h0.55M135.7 199.2h0.55M139.8 196.5h0.55M118.5 204.7h0.55M114.2 205.2h0.55M126.3 203.0h0.55M116.2 203.5h0.55M129.9 200.7h0.55M130.4 200.8h0.55M126.1 200.4h0.55M115.3 202.1h0.55M127.1 199.0h0.55M111.5 198.7h0.55M132.3 199.9h0.55M119.0 205.5h0.55M122.8 197.4h0.55M121.1 199.4h0.55M122.7 199.1h0.55M124.3 202.7h0.55M120.3 201.4h0.55M122.9 203.9h0.55M119.3 204.2h0.55M131.8 200.0h0.55M117.7 201.4h0.55M112.6 201.4h0.55M116.3 201.9h0.55M121.5 203.2h0.55M124.6 202.6h0.55M123.6 202.3h0.55M116.7 204.2h0.55M132.2 203.6h0.55M115.3 203.7h0.55M113.5 204.9h0.55M122.6 200.4h0.55M119.1 201.4h0.55M123.9 198.8h0.55M124.3 202.2h0.55M127.3 201.0h0.55M123.9 208.0h0.55M130.3 201.6h0.55M115.0 204.3h0.55M127.6 193.6h0.55M122.9 202.7h0.55M124.1 201.8h0.55M122.9 205.5h0.55M126.3 200.4h0.55M122.5 207.5h0.55M118.4 200.7h0.55M126.0 201.7h0.55M125.8 205.1h0.55M131.2 201.8h0.55M124.2 201.3h0.55M122.4 204.5h0.55M115.8 199.6h0.55M121.0 199.2h0.55M119.2 205.4h0.55M109.5 204.9h0.55M115.5 201.8h0.55M120.2 199.2h0.55M114.4 202.9h0.55M121.4 204.9h0.55M135.8 199.3h0.55M118.8 201.3h0.55M126.9 203.8h0.55M117.8 203.6h0.55M123.7 204.7h0.55M121.3 201.2h0.55M118.5 198.5h0.55M125.7 203.3h0.55M131.1 201.4h0.55M121.0 199.3h0.55M116.5 200.4h0.55M126.1 201.5h0.55M109.2 203.0h0.55M122.1 198.8h0.55M123.8 203.0h0.55M117.3 198.5h0.55M121.9 202.5h0.55M122.3 206.0h0.55M124.9 198.6h0.55M128.9 199.1h0.55M128.4 201.3h0.55M131.8 197.8h0.55M128.6 202.1h0.55M118.1 204.2h0.55M138.5 200.8h0.55M119.0 201.7h0.55M132.3 201.2h0.55M133.4 198.5h0.55M132.3 196.1h0.55M122.9 200.8h0.55M120.8 205.3h0.55M120.1 203.0h0.55M135.9 202.4h0.55M121.3 199.8h0.55M111.0 204.1h0.55M129.7 203.9h0.55M125.5 207.4h0.55M128.9 194.4h0.55M118.3 204.4h0.55M121.4 204.2h0.55M140.5 197.4h0.55M138.2 199.6h0.55M114.5 202.9h0.55M129.8 199.2h0.55M134.1 197.8h0.55M122.7 204.2h0.55M122.6 200.1h0.55M123.8 203.4h0.55M135.1 204.0h0.55M136.0 200.0h0.55M113.2 202.7h0.55M121.3 199.0h0.55M120.6 201.7h0.55M124.3 204.0h0.55M118.1 205.4h0.55M124.3 203.5h0.55M132.0 197.1h0.55M134.3 198.3h0.55M126.5 204.2h0.55M129.9 196.4h0.55M125.0 204.6h0.55M123.2 201.4h0.55M124.4 206.1h0.55M120.5 199.3h0.55M116.8 200.9h0.55M122.4 202.7h0.55M123.4 196.8h0.55M113.8 204.6h0.55M128.7 197.1h0.55M130.0 194.0h0.55M139.0 201.4h0.55M113.2 204.2h0.55M123.8 200.3h0.55M121.6 201.2h0.55M123.3 199.1h0.55M120.3 203.5h0.55M127.4 197.4h0.55M120.8 206.3h0.55M128.6 205.6h0.55M115.2 199.6h0.55M109.9 197.8h0.55M121.5 198.9h0.55M116.9 200.4h0.55M122.8 204.0h0.55M127.6 196.1h0.55M133.7 199.4h0.55M117.5 202.2h0.55M121.4 197.9h0.55M134.1 198.7h0.55M120.1 203.5h0.55M134.9 201.6h0.55M118.1 203.4h0.55M131.2 201.7h0.55M128.2 199.6h0.55M123.5 196.8h0.55M119.3 198.9h0.55M124.0 205.7h0.55M109.4 199.6h0.55M117.9 202.0h0.55M131.6 198.4h0.55M118.9 205.5h0.55M126.4 202.7h0.55M129.4 198.8h0.55M125.4 199.5h0.55M119.3 202.4h0.55M126.8 197.6h0.55M119.0 203.8h0.55M125.1 203.2h0.55M121.9 199.5h0.55M129.1 202.6h0.55M119.0 204.0h0.55M134.2 199.5h0.55M117.7 203.0h0.55M124.6 203.0h0.55M114.8 203.3h0.55M129.8 202.8h0.55M128.1 204.4h0.55M118.6 205.6h0.55M125.4 198.5h0.55M122.1 202.5h0.55M126.2 205.0h0.55M125.2 199.9h0.55M138.2 198.9h0.55M118.6 204.7h0.55M121.3 199.6h0.55M117.1 205.7h0.55M117.1 202.6h0.55M121.0 201.3h0.55M118.7 202.6h0.55M127.9 204.0h0.55M121.7 198.5h0.55M114.3 202.7h0.55M107.8 207.2h0.55M124.2 201.8h0.55M114.9 200.8h0.55M119.1 204.0h0.55M121.3 203.6h0.55M127.4 195.7h0.55M122.5 205.2h0.55M120.7 202.3h0.55M123.2 198.2h0.55M138.2 199.4h0.55M128.2 199.8h0.55M133.1 203.6h0.55M131.7 203.3h0.55M128.6 204.9h0.55M126.6 201.6h0.55M129.3 198.4h0.55M107.4 205.8h0.55M125.0 199.4h0.55M122.2 199.1h0.55M118.5 202.7h0.55M124.8 203.8h0.55M123.4 203.4h0.55M128.5 199.0h0.55M113.0 200.9h0.55M122.3 200.2h0.55M138.4 197.9h0.55M127.1 199.0h0.55M128.5 197.4h0.55M130.2 201.3h0.55M121.4 198.5h0.55M134.9 198.6h0.55M133.4 193.7h0.55M116.2 207.5h0.55M147.5 199.6h0.55M142.0 201.4h0.55M132.5 199.9h0.55M126.9 195.5h0.55M135.9 201.7h0.55M136.1 195.9h0.55M141.0 199.8h0.55M140.3 198.7h0.55M133.1 202.7h0.55M144.6 195.9h0.55M127.2 202.4h0.55M137.5 199.7h0.55M128.1 202.6h0.55M136.3 200.2h0.55M137.7 198.0h0.55M137.8 199.9h0.55M140.1 200.7h0.55M126.0 197.4h0.55M133.1 203.0h0.55M130.4 202.9h0.55M142.6 202.2h0.55M150.8 199.5h0.55M137.3 203.2h0.55M137.9 202.5h0.55M134.1 203.8h0.55M137.5 193.8h0.55M142.6 199.0h0.55M128.8 198.6h0.55M133.0 203.0h0.55M137.3 199.3h0.55M134.9 196.9h0.55M130.5 198.1h0.55M133.4 196.1h0.55M132.2 202.5h0.55M138.2 199.5h0.55M137.4 198.8h0.55M126.7 202.2h0.55M150.8 201.1h0.55M139.8 206.9h0.55M126.5 201.1h0.55M132.6 198.7h0.55M123.4 199.3h0.55M137.8 194.8h0.55M133.4 198.1h0.55M128.0 201.4h0.55M146.5 200.8h0.55M142.2 201.8h0.55M134.6 201.3h0.55M144.3 198.3h0.55M134.0 195.4h0.55M121.9 197.1h0.55M141.3 200.6h0.55M136.8 203.5h0.55M122.6 203.7h0.55M135.6 201.9h0.55M144.7 197.1h0.55M128.9 200.7h0.55M134.6 197.8h0.55M134.1 197.4h0.55M135.9 198.4h0.55M147.0 196.4h0.55M139.1 199.8h0.55M146.1 196.7h0.55M131.7 204.7h0.55M130.4 198.4h0.55M132.2 196.6h0.55M143.6 204.1h0.55M133.9 197.3h0.55M125.5 201.5h0.55M131.3 201.2h0.55M118.1 198.3h0.55M139.4 200.8h0.55M114.9 200.4h0.55M135.9 199.5h0.55M132.6 198.2h0.55M136.0 201.1h0.55M112.8 199.5h0.55M141.5 198.9h0.55M143.6 196.8h0.55M148.4 202.4h0.55M132.1 207.7h0.55M145.1 204.3h0.55M126.6 199.2h0.55M138.3 202.7h0.55M135.5 195.7h0.55M143.6 199.0h0.55M138.1 198.6h0.55M134.2 195.5h0.55M139.7 197.7h0.55M122.5 200.8h0.55M134.8 202.4h0.55M140.8 195.9h0.55M133.8 199.5h0.55M135.6 196.4h0.55M135.5 202.5h0.55M143.7 203.9h0.55M140.3 192.0h0.55M133.1 197.9h0.55M114.6 204.1h0.55M141.4 199.5h0.55M137.5 201.0h0.55M133.5 203.6h0.55M147.8 202.0h0.55M131.1 200.3h0.55M141.9 201.7h0.55M130.2 202.4h0.55M140.1 201.3h0.55M132.1 199.5h0.55M121.6 199.4h0.55M131.9 198.7h0.55M133.0 198.6h0.55M135.6 199.8h0.55M130.7 199.1h0.55M134.4 201.0h0.55M138.1 198.5h0.55M129.2 194.7h0.55M126.2 200.7h0.55M128.5 204.3h0.55M133.9 198.4h0.55M133.9 197.9h0.55M130.6 199.7h0.55M124.8 199.9h0.55M134.4 196.9h0.55M142.2 200.6h0.55M142.6 197.6h0.55M126.3 196.0h0.55M124.0 193.9h0.55M146.0 198.1h0.55M136.4 197.9h0.55M134.0 204.2h0.55M137.8 217.7h0.55M143.4 218.0h0.55M145.1 227.8h0.55M145.7 225.4h0.55M142.5 226.5h0.55M140.6 216.7h0.55M142.2 220.9h0.55M146.7 217.7h0.55M146.4 218.6h0.55M139.2 214.5h0.55M142.9 215.6h0.55M143.6 222.2h0.55M141.8 213.5h0.55M141.4 224.0h0.55M137.6 225.1h0.55M143.1 219.6h0.55M143.6 224.9h0.55M142.9 218.6h0.55M145.4 219.0h0.55M144.1 226.4h0.55M146.9 229.1h0.55M146.1 222.7h0.55M142.4 222.9h0.55M144.6 235.3h0.55M145.0 218.4h0.55M147.6 215.0h0.55M146.0 216.3h0.55M139.7 219.8h0.55M142.1 216.0h0.55M144.9 221.5h0.55M147.0 217.5h0.55M137.6 225.1h0.55M142.3 226.4h0.55M136.0 216.5h0.55M143.3 230.7h0.55M139.3 213.6h0.55M141.6 228.3h0.55M147.8 216.0h0.55M141.2 213.8h0.55M140.5 217.7h0.55M144.3 227.1h0.55M150.2 220.4h0.55M145.5 223.0h0.55M143.4 230.6h0.55M145.1 229.0h0.55M143.9 225.9h0.55M144.5 221.6h0.55M140.9 220.2h0.55M143.0 220.3h0.55M142.0 218.9h0.55M145.6 220.9h0.55M142.6 221.0h0.55M146.9 219.6h0.55M147.2 218.2h0.55M147.6 224.7h0.55M127.2 200.6h0.55M154.2 220.5h0.55M125.5 195.1h0.55M141.4 194.6h0.55M119.7 194.1h0.55M116.1 224.1h0.55M121.2 234.4h0.55M121.8 226.4h0.55M146.0 219.7h0.55M139.1 198.0h0.55M150.9 231.7h0.55M135.1 200.1h0.55M111.6 203.0h0.55M158.5 205.6h0.55M121.9 214.6h0.55M108.8 226.0h0.55M148.3 205.2h0.55M108.6 230.7h0.55M149.9 224.8h0.55M118.2 233.0h0.55M141.0 193.4h0.55M159.0 222.0h0.55M116.8 230.3h0.55M138.6 219.4h0.55M108.5 201.2h0.55M149.0 192.6h0.55M117.3 195.0h0.55M137.9 197.9h0.55M148.6 211.4h0.55M148.5 231.3h0.55M158.5 200.2h0.55M126.3 226.1h0.55M124.6 232.3h0.55M124.8 219.0h0.55M120.6 223.1h0.55M122.0 210.2h0.55M145.3 227.6h0.55M114.4 199.4h0.55M118.2 225.0h0.55M142.7 222.8h0.55M149.8 202.1h0.55M133.3 192.2h0.55M125.7 217.8h0.55M120.8 226.2h0.55M118.3 211.0h0.55M143.3 201.5h0.55M142.2 209.2h0.55M109.6 196.5h0.55M141.6 227.4h0.55M143.0 229.1h0.55M142.3 225.5h0.55M151.4 217.6h0.55M135.2 198.9h0.55M119.5 195.7h0.55M112.9 208.8h0.55M122.5 216.2h0.55M150.9 203.6h0.55M154.4 227.9h0.55M117.2 217.4h0.55M117.5 194.8h0.55" stroke="#333" stroke-width="0.55" opacity="0.42" fill="none"/>
<rect x="105.9" y="190" width="24.9" height="22" fill="none" stroke="#b2b2b2" stroke-width="0.8"/>
<rect x="131.4" y="190" width="24.9" height="21" fill="none" stroke="#b2b2b2" stroke-width="0.8"/>
<rect x="132.5" y="213" width="23" height="22.3" fill="none" stroke="#b2b2b2" stroke-width="0.8"/>
<text x="27" y="243.5" font-size="3.2" text-anchor="middle" font-weight="normal" style="stroke:none;fill:#222">0</text>
<line x1="27" y1="236.6" x2="27" y2="238.2" stroke="#222" stroke-width="0.5"/>
<text x="32.5" y="243.5" font-size="3.2" text-anchor="middle" font-weight="normal" style="stroke:none;fill:#222">10<tspan font-size="2.4" dy="-1.3">2</tspan></text>
<line x1="32.5" y1="236.6" x2="32.5" y2="238.2" stroke="#222" stroke-width="0.5"/>
<text x="50" y="243.5" font-size="3.2" text-anchor="middle" font-weight="normal" style="stroke:none;fill:#222">10<tspan font-size="2.4" dy="-1.3">3</tspan></text>
<line x1="50" y1="236.6" x2="50" y2="238.2" stroke="#222" stroke-width="0.5"/>
<text x="67" y="243.5" font-size="3.2" text-anchor="middle" font-weight="normal" style="stroke:none;fill:#222">10<tspan font-size="2.4" dy="-1.3">4</tspan></text>
<line x1="67" y1="236.6" x2="67" y2="238.2" stroke="#222" stroke-width="0.5"/>
<text x="82.5" y="243.5" font-size="3.2" text-anchor="middle" font-weight="normal" style="stroke:none;fill:#222">10<tspan font-size="2.4" dy="-1.3">5</tspan></text>
<line x1="82.5" y1="236.6" x2="82.5" y2="238.2" stroke="#222" stroke-width="0.5"/>
<text x="15" y="174.1" font-size="3.2" text-anchor="middle" font-weight="normal" style="stroke:none;fill:#222">10<tspan font-size="2.4" dy="-1.3">5</tspan></text>
<line x1="17.9" y1="173" x2="19.5" y2="173" stroke="#222" stroke-width="0.5"/>
<text x="15" y="189.1" font-size="3.2" text-anchor="middle" font-weight="normal" style="stroke:none;fill:#222">10<tspan font-size="2.4" dy="-1.3">4</tspan></text>
<line x1="17.9" y1="188" x2="19.5" y2="188" stroke="#222" stroke-width="0.5"/>
<text x="15" y="206.1" font-size="3.2" text-anchor="middle" font-weight="normal" style="stroke:none;fill:#222">10<tspan font-size="2.4" dy="-1.3">3</tspan></text>
<line x1="17.9" y1="205" x2="19.5" y2="205" stroke="#222" stroke-width="0.5"/>
<text x="15" y="222.1" font-size="3.2" text-anchor="middle" font-weight="normal" style="stroke:none;fill:#222">10<tspan font-size="2.4" dy="-1.3">2</tspan></text>
<line x1="17.9" y1="221" x2="19.5" y2="221" stroke="#222" stroke-width="0.5"/>
<text x="15" y="230.1" font-size="3.2" text-anchor="middle" font-weight="normal" style="stroke:none;fill:#222">0</text>
<line x1="17.9" y1="229" x2="19.5" y2="229" stroke="#222" stroke-width="0.5"/>
<path d="M37.8 236.6v1.2M40.8 236.6v1.2M43.0 236.6v1.2M44.7 236.6v1.2M46.1 236.6v1.2M47.3 236.6v1.2M48.3 236.6v1.2M49.2 236.6v1.2M55.1 236.6v1.2M58.1 236.6v1.2M60.2 236.6v1.2M61.9 236.6v1.2M63.2 236.6v1.2M64.4 236.6v1.2M65.4 236.6v1.2M66.2 236.6v1.2M71.7 236.6v1.2M74.4 236.6v1.2M76.3 236.6v1.2M77.8 236.6v1.2M79.1 236.6v1.2M80.1 236.6v1.2M81.0 236.6v1.2M81.8 236.6v1.2M19.5 216.2h-1.2M19.5 213.4h-1.2M19.5 211.4h-1.2M19.5 209.8h-1.2M19.5 208.5h-1.2M19.5 207.5h-1.2M19.5 206.6h-1.2M19.5 205.7h-1.2M19.5 199.9h-1.2M19.5 196.9h-1.2M19.5 194.8h-1.2M19.5 193.1h-1.2M19.5 191.8h-1.2M19.5 190.6h-1.2M19.5 189.6h-1.2M19.5 188.8h-1.2M19.5 183.5h-1.2M19.5 180.8h-1.2M19.5 179.0h-1.2M19.5 177.5h-1.2M19.5 176.3h-1.2M19.5 175.3h-1.2M19.5 174.5h-1.2M19.5 173.7h-1.2M19.5 168.5h-1.2" stroke="#222" stroke-width="0.4" fill="none"/>
<text x="113.5" y="243.20000000000002" font-size="3.2" text-anchor="middle" font-weight="normal" style="stroke:none;fill:#222">0</text>
<line x1="113.5" y1="236.3" x2="113.5" y2="237.9" stroke="#222" stroke-width="0.5"/>
<text x="120" y="243.20000000000002" font-size="3.2" text-anchor="middle" font-weight="normal" style="stroke:none;fill:#222">10<tspan font-size="2.4" dy="-1.3">2</tspan></text>
<line x1="120" y1="236.3" x2="120" y2="237.9" stroke="#222" stroke-width="0.5"/>
<text x="137" y="243.20000000000002" font-size="3.2" text-anchor="middle" font-weight="normal" style="stroke:none;fill:#222">10<tspan font-size="2.4" dy="-1.3">3</tspan></text>
<line x1="137" y1="236.3" x2="137" y2="237.9" stroke="#222" stroke-width="0.5"/>
<text x="152.5" y="243.20000000000002" font-size="3.2" text-anchor="middle" font-weight="normal" style="stroke:none;fill:#222">10<tspan font-size="2.4" dy="-1.3">4</tspan></text>
<line x1="152.5" y1="236.3" x2="152.5" y2="237.9" stroke="#222" stroke-width="0.5"/>
<text x="168.5" y="243.20000000000002" font-size="3.2" text-anchor="middle" font-weight="normal" style="stroke:none;fill:#222">10<tspan font-size="2.4" dy="-1.3">5</tspan></text>
<line x1="168.5" y1="236.3" x2="168.5" y2="237.9" stroke="#222" stroke-width="0.5"/>
<text x="101" y="174.1" font-size="3.2" text-anchor="middle" font-weight="normal" style="stroke:none;fill:#222">10<tspan font-size="2.4" dy="-1.3">5</tspan></text>
<line x1="103.9" y1="173" x2="105.5" y2="173" stroke="#222" stroke-width="0.5"/>
<text x="101" y="189.1" font-size="3.2" text-anchor="middle" font-weight="normal" style="stroke:none;fill:#222">10<tspan font-size="2.4" dy="-1.3">4</tspan></text>
<line x1="103.9" y1="188" x2="105.5" y2="188" stroke="#222" stroke-width="0.5"/>
<text x="101" y="205.6" font-size="3.2" text-anchor="middle" font-weight="normal" style="stroke:none;fill:#222">10<tspan font-size="2.4" dy="-1.3">3</tspan></text>
<line x1="103.9" y1="204.5" x2="105.5" y2="204.5" stroke="#222" stroke-width="0.5"/>
<text x="101" y="222.1" font-size="3.2" text-anchor="middle" font-weight="normal" style="stroke:none;fill:#222">10<tspan font-size="2.4" dy="-1.3">2</tspan></text>
<line x1="103.9" y1="221" x2="105.5" y2="221" stroke="#222" stroke-width="0.5"/>
<text x="101" y="229.9" font-size="3.2" text-anchor="middle" font-weight="normal" style="stroke:none;fill:#222">0</text>
<line x1="103.9" y1="228.8" x2="105.5" y2="228.8" stroke="#222" stroke-width="0.5"/>
<path d="M125.1 236.3v1.2M128.1 236.3v1.2M130.2 236.3v1.2M131.9 236.3v1.2M133.2 236.3v1.2M134.4 236.3v1.2M135.4 236.3v1.2M136.2 236.3v1.2M141.7 236.3v1.2M144.4 236.3v1.2M146.3 236.3v1.2M147.8 236.3v1.2M149.1 236.3v1.2M150.1 236.3v1.2M151.0 236.3v1.2M151.8 236.3v1.2M157.3 236.3v1.2M160.1 236.3v1.2M162.1 236.3v1.2M163.7 236.3v1.2M165.0 236.3v1.2M166.0 236.3v1.2M166.9 236.3v1.2M167.8 236.3v1.2M105.5 216.0h-1.2M105.5 213.1h-1.2M105.5 211.1h-1.2M105.5 209.5h-1.2M105.5 208.2h-1.2M105.5 207.1h-1.2M105.5 206.1h-1.2M105.5 205.3h-1.2M105.5 199.5h-1.2M105.5 196.6h-1.2M105.5 194.6h-1.2M105.5 193.0h-1.2M105.5 191.7h-1.2M105.5 190.6h-1.2M105.5 189.6h-1.2M105.5 188.8h-1.2M105.5 183.5h-1.2M105.5 180.8h-1.2M105.5 179.0h-1.2M105.5 177.5h-1.2M105.5 176.3h-1.2M105.5 175.3h-1.2M105.5 174.5h-1.2M105.5 173.7h-1.2M105.5 168.5h-1.2" stroke="#222" stroke-width="0.4" fill="none"/>
<text x="53.4" y="254.8" font-size="7" text-anchor="middle" font-weight="normal" >IgM</text>
<text x="139.4" y="253.5" font-size="6.7" text-anchor="middle" font-weight="normal" >CD43</text>
<text transform="translate(7.6,203) rotate(-90)" font-size="7.1" text-anchor="middle">B220</text>
<text transform="translate(184.3,201) rotate(-90)" font-size="6.6" text-anchor="middle">CD19</text>
<path d="M27.7 182.5 V162 H132.7 V171" fill="none" stroke="#111" stroke-width="1"/>
<path d="M132.7 175.5 L130.4 170.3 L135 170.3Z" fill="#111"/>
<rect x="230.6" y="73.5" width="21.0" height="22.799999999999997" fill="#000" stroke="#000" stroke-width="0.8"/>
<path d="M241.1 73.5 V71.5 M235.43 71.5 H246.76999999999998" stroke="#000" stroke-width="0.9" fill="none"/>
<rect x="261.79999999999995" y="82.5" width="20.800000000000068" height="13.799999999999997" fill="#b4b4b4" stroke="#000" stroke-width="0.8"/>
<path d="M272.2 82.5 V80.3 M266.58399999999995 80.3 H277.81600000000003" stroke="#000" stroke-width="0.9" fill="none"/>
<rect x="293.0" y="35.0" width="21.100000000000023" height="61.3" fill="#000" stroke="#000" stroke-width="0.8"/>
<path d="M303.55 35.0 V29.8 M297.853 29.8 H309.247" stroke="#000" stroke-width="0.9" fill="none"/>
<rect x="324.2" y="55.5" width="20.900000000000034" height="40.8" fill="#b4b4b4" stroke="#000" stroke-width="0.8"/>
<path d="M334.65 55.5 V52.099999999999994 M329.00699999999995 52.099999999999994 H340.293" stroke="#000" stroke-width="0.9" fill="none"/>
<path d="M225.6 12.9 V96.3 H350" stroke="#000" stroke-width="1.1" fill="none"/>
<line x1="222.29999999999998" y1="96.3" x2="225.6" y2="96.3" stroke="#000" stroke-width="1"/>
<text x="221.29999999999998" y="98.64999999999999" font-size="6.7" text-anchor="end" font-weight="normal" style="fill:#111;stroke-width:0.22px">0</text>
<line x1="223.4" y1="82.46666666666667" x2="225.6" y2="82.46666666666667" stroke="#000" stroke-width="0.8"/>
<line x1="222.29999999999998" y1="68.63333333333333" x2="225.6" y2="68.63333333333333" stroke="#000" stroke-width="1"/>
<text x="221.29999999999998" y="70.98333333333332" font-size="6.7" text-anchor="end" font-weight="normal" style="fill:#111;stroke-width:0.22px">2</text>
<line x1="223.4" y1="54.79999999999999" x2="225.6" y2="54.79999999999999" stroke="#000" stroke-width="0.8"/>
<line x1="222.29999999999998" y1="40.96666666666666" x2="225.6" y2="40.96666666666666" stroke="#000" stroke-width="1"/>
<text x="221.29999999999998" y="43.31666666666666" font-size="6.7" text-anchor="end" font-weight="normal" style="fill:#111;stroke-width:0.22px">4</text>
<line x1="223.4" y1="27.133333333333326" x2="225.6" y2="27.133333333333326" stroke="#000" stroke-width="0.8"/>
<line x1="222.29999999999998" y1="13.299999999999997" x2="225.6" y2="13.299999999999997" stroke="#000" stroke-width="1"/>
<text x="221.29999999999998" y="15.649999999999997" font-size="6.7" text-anchor="end" font-weight="normal" style="fill:#111;stroke-width:0.22px">6</text>
<rect x="227.79999999999998" y="13.3" width="3.7" height="3.7" fill="#000" stroke="#000" stroke-width="0.5"/>
<text x="233.49999999999997" y="17.2" font-size="5.6" text-anchor="start" font-weight="normal" style="stroke-width:0.08px">Control</text>
<rect x="227.79999999999998" y="21.3" width="3.7" height="3.7" fill="#c4c4c4" stroke="#000" stroke-width="0.7"/>
<text x="233.49999999999997" y="25.4" font-size="5.6" text-anchor="start" font-weight="normal" style="stroke-width:0.08px">Epo</text>
<text x="241" y="105.3" font-size="6.8" text-anchor="middle" font-weight="normal" >C</text>
<text x="272" y="105.3" font-size="6.8" text-anchor="middle" font-weight="normal" >E</text>
<text x="303.3" y="105.3" font-size="6.8" text-anchor="middle" font-weight="normal" >C</text>
<text x="334.5" y="105.3" font-size="6.8" text-anchor="middle" font-weight="normal" >E</text>
<line x1="241" y1="109.6" x2="272.2" y2="109.6" stroke="#000" stroke-width="0.9"/>
<text x="256.6" y="118.8" font-size="6.8" text-anchor="middle" font-weight="normal" >B220<tspan font-size="5.8" dx="0.4" dy="-2.9" font-weight="bold">+</tspan><tspan dy="2.9">IgM</tspan><tspan font-size="5.8" dx="0.4" dy="-2.9" font-weight="bold">+</tspan></text>
<line x1="303.2" y1="109.6" x2="335" y2="109.6" stroke="#000" stroke-width="0.9"/>
<text x="319.1" y="118.8" font-size="6.8" text-anchor="middle" font-weight="normal" >B220<tspan font-size="5.8" dx="0.4" dy="-2.9" font-weight="bold">+</tspan><tspan dy="2.9">IgM</tspan><tspan font-size="5.8" dx="0.4" dy="-2.9" font-weight="bold">-</tspan></text>
<text x="272.3" y="69.6" font-size="5.8" text-anchor="middle" font-weight="normal" style="stroke-width:0.08px">p=0.002</text>
<text x="334" y="44.300000000000004" font-size="5.8" text-anchor="middle" font-weight="normal" style="stroke-width:0.08px">p=0.001</text>
<text transform="translate(207.5,51.8) rotate(-90)" font-size="6.9" text-anchor="middle">Cells per femur (x10<tspan font-size="6.3" dy="-2.7">6</tspan><tspan dy="2.7">)</tspan></text>
<rect x="394.29999999999995" y="88.0" width="13.700000000000045" height="7.900000000000006" fill="#000" stroke="#000" stroke-width="0.8"/>
<path d="M401.15 88.0 V87.3 M397.45099999999996 87.3 H404.849" stroke="#000" stroke-width="0.9" fill="none"/>
<rect x="415.0" y="88.1" width="13.400000000000034" height="7.800000000000011" fill="#b4b4b4" stroke="#000" stroke-width="0.8"/>
<path d="M421.70000000000005 88.1 V87.5 M418.08200000000005 87.5 H425.31800000000004" stroke="#000" stroke-width="0.9" fill="none"/>
<rect x="436.2" y="75.5" width="13.400000000000034" height="20.400000000000006" fill="#000" stroke="#000" stroke-width="0.8"/>
<path d="M442.9 75.5 V73.3 M439.282 73.3 H446.518" stroke="#000" stroke-width="0.9" fill="none"/>
<rect x="457.4" y="81.7" width="13.400000000000034" height="14.200000000000003" fill="#b4b4b4" stroke="#000" stroke-width="0.8"/>
<path d="M464.1 81.7 V80.5 M460.482 80.5 H467.718" stroke="#000" stroke-width="0.9" fill="none"/>
<rect x="478.0" y="38.7" width="13.400000000000034" height="57.2" fill="#000" stroke="#000" stroke-width="0.8"/>
<path d="M484.70000000000005 38.7 V33.5 M481.08200000000005 33.5 H488.31800000000004" stroke="#000" stroke-width="0.9" fill="none"/>
<rect x="499.2" y="61.0" width="13.400000000000034" height="34.900000000000006" fill="#b4b4b4" stroke="#000" stroke-width="0.8"/>
<path d="M505.9 61.0 V57.8 M502.282 57.8 H509.518" stroke="#000" stroke-width="0.9" fill="none"/>
<path d="M390.8 12.299999999999999 V95.9 H516.3" stroke="#000" stroke-width="1.1" fill="none"/>
<line x1="387.5" y1="95.9" x2="390.8" y2="95.9" stroke="#000" stroke-width="1"/>
<text x="386.5" y="98.25" font-size="6.7" text-anchor="end" font-weight="normal" style="fill:#111;stroke-width:0.22px">0</text>
<line x1="387.5" y1="75.10000000000001" x2="390.8" y2="75.10000000000001" stroke="#000" stroke-width="1"/>
<text x="386.5" y="77.45" font-size="6.7" text-anchor="end" font-weight="normal" style="fill:#111;stroke-width:0.22px">1</text>
<line x1="387.5" y1="54.300000000000004" x2="390.8" y2="54.300000000000004" stroke="#000" stroke-width="1"/>
<text x="386.5" y="56.650000000000006" font-size="6.7" text-anchor="end" font-weight="normal" style="fill:#111;stroke-width:0.22px">2</text>
<line x1="387.5" y1="33.5" x2="390.8" y2="33.5" stroke="#000" stroke-width="1"/>
<text x="386.5" y="35.85" font-size="6.7" text-anchor="end" font-weight="normal" style="fill:#111;stroke-width:0.22px">3</text>
<line x1="387.5" y1="12.700000000000003" x2="390.8" y2="12.700000000000003" stroke="#000" stroke-width="1"/>
<text x="386.5" y="15.050000000000002" font-size="6.7" text-anchor="end" font-weight="normal" style="fill:#111;stroke-width:0.22px">4</text>
<rect x="393.0" y="12.7" width="3.7" height="3.7" fill="#000" stroke="#000" stroke-width="0.5"/>
<text x="398.7" y="16.599999999999998" font-size="5.6" text-anchor="start" font-weight="normal" style="stroke-width:0.08px">Control</text>
<rect x="393.0" y="20.7" width="3.7" height="3.7" fill="#c4c4c4" stroke="#000" stroke-width="0.7"/>
<text x="398.7" y="24.799999999999997" font-size="5.6" text-anchor="start" font-weight="normal" style="stroke-width:0.08px">Epo</text>
<text x="401" y="104.9" font-size="6.8" text-anchor="middle" font-weight="normal" >C</text>
<text x="421" y="104.9" font-size="6.8" text-anchor="middle" font-weight="normal" >E</text>
<text x="442.5" y="104.9" font-size="6.8" text-anchor="middle" font-weight="normal" >C</text>
<text x="463" y="104.9" font-size="6.8" text-anchor="middle" font-weight="normal" >E</text>
<text x="485" y="104.9" font-size="6.8" text-anchor="middle" font-weight="normal" >C</text>
<text x="505.5" y="104.9" font-size="6.8" text-anchor="middle" font-weight="normal" >E</text>
<line x1="397" y1="109.2" x2="427.5" y2="109.2" stroke="#000" stroke-width="0.9"/>
<text x="412.25" y="118.4" font-size="6.8" text-anchor="middle" font-weight="normal" >Pre-Pro B</text>
<line x1="438.8" y1="109.2" x2="468.8" y2="109.2" stroke="#000" stroke-width="0.9"/>
<text x="453.8" y="118.4" font-size="6.8" text-anchor="middle" font-weight="normal" >Pro B</text>
<line x1="481.2" y1="109.2" x2="511.2" y2="109.2" stroke="#000" stroke-width="0.9"/>
<text x="496.2" y="118.4" font-size="6.8" text-anchor="middle" font-weight="normal" >Pre B</text>
<text x="463" y="70.0" font-size="5.8" text-anchor="middle" font-weight="normal" style="stroke-width:0.08px">p=0.015</text>
<text x="506.7" y="52.6" font-size="5.8" text-anchor="middle" font-weight="normal" style="stroke-width:0.08px">p=0.001</text>
<text transform="translate(373.5,51.3) rotate(-90)" font-size="6.9" text-anchor="middle">Cells per femur (x10<tspan font-size="6.3" dy="-2.7">6</tspan><tspan dy="2.7">)</tspan></text>
<rect x="232.3" y="237.3" width="20.299999999999983" height="13.299999999999983" fill="#000" stroke="#000" stroke-width="0.8"/>
<path d="M242.45 237.3 V235.3 M236.969 235.3 H247.93099999999998" stroke="#000" stroke-width="0.9" fill="none"/>
<rect x="262.9" y="240.0" width="20.500000000000057" height="10.599999999999994" fill="#b4b4b4" stroke="#000" stroke-width="0.8"/>
<path d="M273.15 240.0 V237.8 M267.61499999999995 237.8 H278.685" stroke="#000" stroke-width="0.9" fill="none"/>
<rect x="294.2" y="199.8" width="20.400000000000034" height="50.79999999999998" fill="#000" stroke="#000" stroke-width="0.8"/>
<path d="M304.4 199.8 V189.8 M298.89199999999994 189.8 H309.908" stroke="#000" stroke-width="0.9" fill="none"/>
<rect x="325.4" y="211.8" width="20.400000000000034" height="38.79999999999998" fill="#b4b4b4" stroke="#000" stroke-width="0.8"/>
<path d="M335.6 211.8 V206.10000000000002 M330.092 206.10000000000002 H341.10800000000006" stroke="#000" stroke-width="0.9" fill="none"/>
<path d="M226.6 167.1 V250.6 H350" stroke="#000" stroke-width="1.1" fill="none"/>
<line x1="223.29999999999998" y1="250.6" x2="226.6" y2="250.6" stroke="#000" stroke-width="1"/>
<text x="223.2" y="252.95" font-size="6.7" text-anchor="end" font-weight="normal" style="fill:#111;stroke-width:0.22px">0</text>
<line x1="224.4" y1="240.2125" x2="226.6" y2="240.2125" stroke="#000" stroke-width="0.8"/>
<line x1="223.29999999999998" y1="229.825" x2="226.6" y2="229.825" stroke="#000" stroke-width="1"/>
<text x="223.2" y="232.17499999999998" font-size="6.7" text-anchor="end" font-weight="normal" style="fill:#111;stroke-width:0.22px">2</text>
<line x1="224.4" y1="219.4375" x2="226.6" y2="219.4375" stroke="#000" stroke-width="0.8"/>
<line x1="223.29999999999998" y1="209.05" x2="226.6" y2="209.05" stroke="#000" stroke-width="1"/>
<text x="223.2" y="211.4" font-size="6.7" text-anchor="end" font-weight="normal" style="fill:#111;stroke-width:0.22px">4</text>
<line x1="224.4" y1="198.66250000000002" x2="226.6" y2="198.66250000000002" stroke="#000" stroke-width="0.8"/>
<line x1="223.29999999999998" y1="188.275" x2="226.6" y2="188.275" stroke="#000" stroke-width="1"/>
<text x="223.2" y="190.625" font-size="6.7" text-anchor="end" font-weight="normal" style="fill:#111;stroke-width:0.22px">6</text>
<line x1="224.4" y1="177.88750000000002" x2="226.6" y2="177.88750000000002" stroke="#000" stroke-width="0.8"/>
<line x1="223.29999999999998" y1="167.5" x2="226.6" y2="167.5" stroke="#000" stroke-width="1"/>
<text x="223.2" y="169.85" font-size="6.7" text-anchor="end" font-weight="normal" style="fill:#111;stroke-width:0.22px">8</text>
<rect x="228.79999999999998" y="167.5" width="3.7" height="3.7" fill="#000" stroke="#000" stroke-width="0.5"/>
<text x="234.49999999999997" y="171.4" font-size="5.6" text-anchor="start" font-weight="normal" style="stroke-width:0.08px">Control</text>
<rect x="228.79999999999998" y="175.5" width="3.7" height="3.7" fill="#c4c4c4" stroke="#000" stroke-width="0.7"/>
<text x="234.49999999999997" y="179.6" font-size="5.6" text-anchor="start" font-weight="normal" style="stroke-width:0.08px">PHZ</text>
<text x="242" y="260.70000000000005" font-size="6.8" text-anchor="middle" font-weight="normal" >C</text>
<text x="273" y="260.70000000000005" font-size="6.8" text-anchor="middle" font-weight="normal" >P</text>
<text x="303.8" y="260.70000000000005" font-size="6.8" text-anchor="middle" font-weight="normal" >C</text>
<text x="335.5" y="260.70000000000005" font-size="6.8" text-anchor="middle" font-weight="normal" >P</text>
<line x1="241.5" y1="264.9" x2="273" y2="264.9" stroke="#000" stroke-width="0.9"/>
<text x="257.25" y="274.70000000000005" font-size="6.8" text-anchor="middle" font-weight="normal" >B220<tspan font-size="5.8" dx="0.4" dy="-2.9" font-weight="bold">+</tspan><tspan dy="2.9">IgM</tspan><tspan font-size="5.8" dx="0.4" dy="-2.9" font-weight="bold">+</tspan></text>
<line x1="304.2" y1="264.9" x2="335.5" y2="264.9" stroke="#000" stroke-width="0.9"/>
<text x="319.85" y="274.70000000000005" font-size="6.8" text-anchor="middle" font-weight="normal" >B220<tspan font-size="5.8" dx="0.4" dy="-2.9" font-weight="bold">+</tspan><tspan dy="2.9">IgM</tspan><tspan font-size="5.8" dx="0.4" dy="-2.9" font-weight="bold">-</tspan></text>
<text transform="translate(207.5,206.5) rotate(-90)" font-size="6.9" text-anchor="middle">Cells per femur (x10<tspan font-size="6.3" dy="-2.7">6</tspan><tspan dy="2.7">)</tspan></text>
<rect x="393.5" y="244.9" width="14.100000000000023" height="5.799999999999983" fill="#000" stroke="#000" stroke-width="0.8"/>
<path d="M400.55 244.9 V243.60000000000002 M396.743 243.60000000000002 H404.357" stroke="#000" stroke-width="0.9" fill="none"/>
<rect x="414.59999999999997" y="240.5" width="13.800000000000068" height="10.199999999999989" fill="#b4b4b4" stroke="#000" stroke-width="0.8"/>
<path d="M421.5 240.5 V237.10000000000002 M417.774 237.10000000000002 H425.226" stroke="#000" stroke-width="0.9" fill="none"/>
<rect x="436.0" y="235.5" width="13.200000000000045" height="15.199999999999989" fill="#000" stroke="#000" stroke-width="0.8"/>
<path d="M442.6 235.5 V231.10000000000002 M439.036 231.10000000000002 H446.16400000000004" stroke="#000" stroke-width="0.9" fill="none"/>
<rect x="457.0" y="229.6" width="13.600000000000023" height="21.099999999999994" fill="#b4b4b4" stroke="#000" stroke-width="0.8"/>
<path d="M463.8 229.6 V227.5 M460.128 227.5 H467.47200000000004" stroke="#000" stroke-width="0.9" fill="none"/>
<rect x="478.0" y="197.5" width="13.400000000000034" height="53.19999999999999" fill="#000" stroke="#000" stroke-width="0.8"/>
<path d="M484.70000000000005 197.5 V185.8 M481.08200000000005 185.8 H488.31800000000004" stroke="#000" stroke-width="0.9" fill="none"/>
<rect x="498.79999999999995" y="230.3" width="12.800000000000068" height="20.399999999999977" fill="#b4b4b4" stroke="#000" stroke-width="0.8"/>
<path d="M505.2 230.3 V226.3 M501.74399999999997 226.3 H508.656" stroke="#000" stroke-width="0.9" fill="none"/>
<path d="M390.4 167.1 V250.7 H516.3" stroke="#000" stroke-width="1.1" fill="none"/>
<line x1="387.09999999999997" y1="250.7" x2="390.4" y2="250.7" stroke="#000" stroke-width="1"/>
<text x="387.0" y="253.04999999999998" font-size="6.7" text-anchor="end" font-weight="normal" style="fill:#111;stroke-width:0.22px">0</text>
<line x1="387.09999999999997" y1="234.06" x2="390.4" y2="234.06" stroke="#000" stroke-width="1"/>
<text x="387.0" y="236.41" font-size="6.7" text-anchor="end" font-weight="normal" style="fill:#111;stroke-width:0.22px">1</text>
<line x1="387.09999999999997" y1="217.42" x2="390.4" y2="217.42" stroke="#000" stroke-width="1"/>
<text x="387.0" y="219.76999999999998" font-size="6.7" text-anchor="end" font-weight="normal" style="fill:#111;stroke-width:0.22px">2</text>
<line x1="387.09999999999997" y1="200.78" x2="390.4" y2="200.78" stroke="#000" stroke-width="1"/>
<text x="387.0" y="203.13" font-size="6.7" text-anchor="end" font-weight="normal" style="fill:#111;stroke-width:0.22px">3</text>
<line x1="387.09999999999997" y1="184.14" x2="390.4" y2="184.14" stroke="#000" stroke-width="1"/>
<text x="387.0" y="186.48999999999998" font-size="6.7" text-anchor="end" font-weight="normal" style="fill:#111;stroke-width:0.22px">4</text>
<line x1="387.09999999999997" y1="167.5" x2="390.4" y2="167.5" stroke="#000" stroke-width="1"/>
<text x="387.0" y="169.85" font-size="6.7" text-anchor="end" font-weight="normal" style="fill:#111;stroke-width:0.22px">5</text>
<rect x="393.5" y="167.5" width="3.7" height="3.7" fill="#000" stroke="#000" stroke-width="0.5"/>
<text x="399.2" y="171.4" font-size="5.6" text-anchor="start" font-weight="normal" style="stroke-width:0.08px">Control</text>
<rect x="393.5" y="175.5" width="3.7" height="3.7" fill="#c4c4c4" stroke="#000" stroke-width="0.7"/>
<text x="399.2" y="179.6" font-size="5.6" text-anchor="start" font-weight="normal" style="stroke-width:0.08px">PHZ</text>
<text x="400.4" y="261.2" font-size="6.8" text-anchor="middle" font-weight="normal" >C</text>
<text x="421.2" y="261.2" font-size="6.8" text-anchor="middle" font-weight="normal" >P</text>
<text x="442" y="261.2" font-size="6.8" text-anchor="middle" font-weight="normal" >C</text>
<text x="463.5" y="261.2" font-size="6.8" text-anchor="middle" font-weight="normal" >P</text>
<text x="485" y="261.2" font-size="6.8" text-anchor="middle" font-weight="normal" >C</text>
<text x="505.5" y="261.2" font-size="6.8" text-anchor="middle" font-weight="normal" >P</text>
<line x1="397" y1="264.9" x2="427.5" y2="264.9" stroke="#000" stroke-width="0.9"/>
<text x="412.25" y="274.59999999999997" font-size="6.8" text-anchor="middle" font-weight="normal" >Pre-Pro B</text>
<line x1="438.8" y1="264.9" x2="468.8" y2="264.9" stroke="#000" stroke-width="0.9"/>
<text x="453.8" y="274.59999999999997" font-size="6.8" text-anchor="middle" font-weight="normal" >Pro B</text>
<line x1="481.2" y1="264.9" x2="511.2" y2="264.9" stroke="#000" stroke-width="0.9"/>
<text x="496.2" y="274.59999999999997" font-size="6.8" text-anchor="middle" font-weight="normal" >Pre B</text>
<text x="506.7" y="217.29999999999998" font-size="5.8" text-anchor="middle" font-weight="normal" style="stroke-width:0.08px">p=0.028</text>
<text transform="translate(373.5,206.5) rotate(-90)" font-size="6.9" text-anchor="middle">Cells per femur (x10<tspan font-size="6.3" dy="-2.7">6</tspan><tspan dy="2.7">)</tspan></text>
<path d="M320.5 123.8 V134.4 H452 V124" fill="none" stroke="#111" stroke-width="0.9"/>
<path d="M452 119.8 L449.7 125 L454.3 125Z" fill="#111"/>
<text x="385.4" y="141.8" font-size="6.7" text-anchor="middle" font-weight="normal" >fractionation on CD19 &amp; CD43</text>
<path d="M321.6 279.5 V289.4 H453.5 V280" fill="none" stroke="#111" stroke-width="0.9"/>
<path d="M453.5 275.9 L451.2 281.1 L455.8 281.1Z" fill="#111"/>
<text x="387.6" y="296.7" font-size="6.7" text-anchor="middle" font-weight="normal" >fractionation on CD19 &amp; CD43</text>
</svg></body></html>
